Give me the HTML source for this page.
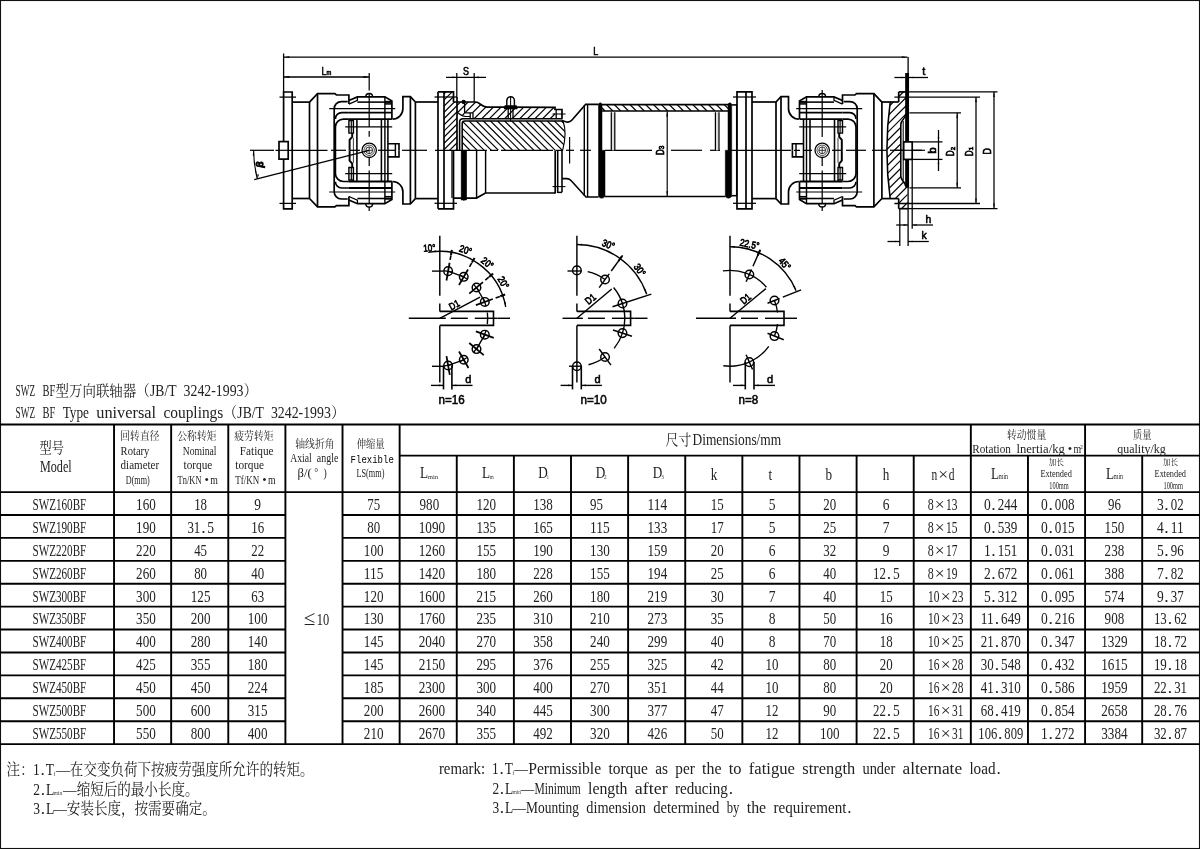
<!DOCTYPE html>
<html lang="zh"><head><meta charset="utf-8"><title>SWZ BF型万向联轴器</title>
<style>html,body{margin:0;padding:0;background:#fff}body{width:1200px;height:849px;overflow:hidden}svg{display:block;will-change:transform}text{white-space:pre}</style>
</head><body>
<svg width="1200" height="849" viewBox="0 0 1200 849">
<rect x="0.5" y="0.5" width="1199" height="848" fill="none" stroke="#111" stroke-width="1.1"/>
<line x1="0" y1="424.5" x2="1200" y2="424.5" stroke="#000" stroke-width="1.9"/>
<line x1="0" y1="492.1" x2="1200" y2="492.1" stroke="#000" stroke-width="1.9"/>
<line x1="0" y1="515.01" x2="285.4" y2="515.01" stroke="#000" stroke-width="1.9"/>
<line x1="342.52" y1="515.01" x2="1200" y2="515.01" stroke="#000" stroke-width="1.9"/>
<line x1="0" y1="537.92" x2="285.4" y2="537.92" stroke="#000" stroke-width="1.9"/>
<line x1="342.52" y1="537.92" x2="1200" y2="537.92" stroke="#000" stroke-width="1.9"/>
<line x1="0" y1="560.83" x2="285.4" y2="560.83" stroke="#000" stroke-width="1.9"/>
<line x1="342.52" y1="560.83" x2="1200" y2="560.83" stroke="#000" stroke-width="1.9"/>
<line x1="0" y1="583.74" x2="285.4" y2="583.74" stroke="#000" stroke-width="1.9"/>
<line x1="342.52" y1="583.74" x2="1200" y2="583.74" stroke="#000" stroke-width="1.9"/>
<line x1="0" y1="606.65" x2="285.4" y2="606.65" stroke="#000" stroke-width="1.9"/>
<line x1="342.52" y1="606.65" x2="1200" y2="606.65" stroke="#000" stroke-width="1.9"/>
<line x1="0" y1="629.56" x2="285.4" y2="629.56" stroke="#000" stroke-width="1.9"/>
<line x1="342.52" y1="629.56" x2="1200" y2="629.56" stroke="#000" stroke-width="1.9"/>
<line x1="0" y1="652.47" x2="285.4" y2="652.47" stroke="#000" stroke-width="1.9"/>
<line x1="342.52" y1="652.47" x2="1200" y2="652.47" stroke="#000" stroke-width="1.9"/>
<line x1="0" y1="675.38" x2="285.4" y2="675.38" stroke="#000" stroke-width="1.9"/>
<line x1="342.52" y1="675.38" x2="1200" y2="675.38" stroke="#000" stroke-width="1.9"/>
<line x1="0" y1="698.29" x2="285.4" y2="698.29" stroke="#000" stroke-width="1.9"/>
<line x1="342.52" y1="698.29" x2="1200" y2="698.29" stroke="#000" stroke-width="1.9"/>
<line x1="0" y1="721.2" x2="285.4" y2="721.2" stroke="#000" stroke-width="1.9"/>
<line x1="342.52" y1="721.2" x2="1200" y2="721.2" stroke="#000" stroke-width="1.9"/>
<line x1="0" y1="744.11" x2="1200" y2="744.11" stroke="#000" stroke-width="1.9"/>
<line x1="399.64" y1="455.6" x2="1200" y2="455.6" stroke="#000" stroke-width="1.9"/>
<line x1="114.04" y1="424.5" x2="114.04" y2="744.11" stroke="#000" stroke-width="1.9"/>
<line x1="171.16" y1="424.5" x2="171.16" y2="744.11" stroke="#000" stroke-width="1.9"/>
<line x1="228.28" y1="424.5" x2="228.28" y2="744.11" stroke="#000" stroke-width="1.9"/>
<line x1="285.4" y1="424.5" x2="285.4" y2="744.11" stroke="#000" stroke-width="1.9"/>
<line x1="342.52" y1="424.5" x2="342.52" y2="744.11" stroke="#000" stroke-width="1.9"/>
<line x1="399.64" y1="424.5" x2="399.64" y2="744.11" stroke="#000" stroke-width="1.9"/>
<line x1="456.76" y1="455.6" x2="456.76" y2="744.11" stroke="#000" stroke-width="1.9"/>
<line x1="513.88" y1="455.6" x2="513.88" y2="744.11" stroke="#000" stroke-width="1.9"/>
<line x1="571" y1="455.6" x2="571" y2="744.11" stroke="#000" stroke-width="1.9"/>
<line x1="628.12" y1="455.6" x2="628.12" y2="744.11" stroke="#000" stroke-width="1.9"/>
<line x1="685.24" y1="455.6" x2="685.24" y2="744.11" stroke="#000" stroke-width="1.9"/>
<line x1="742.36" y1="455.6" x2="742.36" y2="744.11" stroke="#000" stroke-width="1.9"/>
<line x1="799.48" y1="455.6" x2="799.48" y2="744.11" stroke="#000" stroke-width="1.9"/>
<line x1="856.6" y1="455.6" x2="856.6" y2="744.11" stroke="#000" stroke-width="1.9"/>
<line x1="913.72" y1="455.6" x2="913.72" y2="744.11" stroke="#000" stroke-width="1.9"/>
<line x1="970.84" y1="424.5" x2="970.84" y2="744.11" stroke="#000" stroke-width="1.9"/>
<line x1="1027.96" y1="455.6" x2="1027.96" y2="744.11" stroke="#000" stroke-width="1.9"/>
<line x1="1085.08" y1="424.5" x2="1085.08" y2="744.11" stroke="#000" stroke-width="1.9"/>
<line x1="1142.2" y1="455.6" x2="1142.2" y2="744.11" stroke="#000" stroke-width="1.9"/>
<text font-size="16.6" font-family='"Liberation Serif","Noto Serif CJK SC",serif' fill="#222"><tspan x="15.6" y="396.4" textLength="19.56" lengthAdjust="spacingAndGlyphs">SWZ</tspan> <tspan x="42.48" y="396.4" textLength="12.84" lengthAdjust="spacingAndGlyphs">BF</tspan><tspan x="55.62" y="396.4" font-size="15.2" textLength="94.08" lengthAdjust="spacingAndGlyphs">型万向联轴器（</tspan><tspan x="150" y="396.4" textLength="26.28" lengthAdjust="spacingAndGlyphs">JB/T</tspan> <tspan x="183.6" y="396.4" textLength="59.88" lengthAdjust="spacingAndGlyphs">3242-1993</tspan><tspan x="243.78" y="396.4" font-size="15.2" textLength="13.44" lengthAdjust="spacingAndGlyphs">）</tspan></text>
<text font-size="16.6" font-family='"Liberation Serif","Noto Serif CJK SC",serif' fill="#222"><tspan x="15.6" y="417.7" textLength="19.56" lengthAdjust="spacingAndGlyphs">SWZ</tspan> <tspan x="42.48" y="417.7" textLength="12.84" lengthAdjust="spacingAndGlyphs">BF</tspan> <tspan x="62.64" y="417.7" textLength="26.28" lengthAdjust="spacingAndGlyphs">Type</tspan> <tspan x="96.24" y="417.7" textLength="59.88" lengthAdjust="spacingAndGlyphs">universal</tspan> <tspan x="163.44" y="417.7" textLength="59.88" lengthAdjust="spacingAndGlyphs">couplings</tspan><tspan x="223.62" y="417.7" font-size="15.2" textLength="13.44" lengthAdjust="spacingAndGlyphs">（</tspan><tspan x="237.36" y="417.7" textLength="26.28" lengthAdjust="spacingAndGlyphs">JB/T</tspan> <tspan x="270.96" y="417.7" textLength="59.88" lengthAdjust="spacingAndGlyphs">3242-1993</tspan><tspan x="331.14" y="417.7" font-size="15.2" textLength="13.44" lengthAdjust="spacingAndGlyphs">）</tspan></text>
<text font-size="17.6" font-family='"Liberation Serif","Noto Serif CJK SC",serif' fill="#222"><tspan x="39.5" y="452.6" font-size="15.31" textLength="24.4" lengthAdjust="spacingAndGlyphs">型号</tspan></text>
<text font-size="17.6" font-family='"Liberation Serif","Noto Serif CJK SC",serif' fill="#222"><tspan x="40" y="472" textLength="31.65" lengthAdjust="spacingAndGlyphs">Model</tspan></text>
<text font-size="12.6" font-family='"Liberation Serif","Noto Serif CJK SC",serif' fill="#222"><tspan x="120.3" y="440" font-size="11.3" textLength="39.2" lengthAdjust="spacingAndGlyphs">回转直径</tspan></text>
<text font-size="12.6" font-family='"Liberation Serif","Noto Serif CJK SC",serif' fill="#222"><tspan x="120.6" y="454.6" textLength="28.8" lengthAdjust="spacingAndGlyphs">Rotary</tspan></text>
<text font-size="12.6" font-family='"Liberation Serif","Noto Serif CJK SC",serif' fill="#222"><tspan x="120.6" y="469.4" textLength="38.6" lengthAdjust="spacingAndGlyphs">diameter</tspan></text>
<text font-size="12.6" font-family='"Liberation Serif","Noto Serif CJK SC",serif' fill="#222"><tspan x="125.8" y="483.6" textLength="23.9" lengthAdjust="spacingAndGlyphs">D(mm)</tspan></text>
<text font-size="12.6" font-family='"Liberation Serif","Noto Serif CJK SC",serif' fill="#222"><tspan x="177.3" y="440" font-size="11.3" textLength="39.2" lengthAdjust="spacingAndGlyphs">公称转矩</tspan></text>
<text font-size="12.6" font-family='"Liberation Serif","Noto Serif CJK SC",serif' fill="#222"><tspan x="182.8" y="454.6" textLength="33.7" lengthAdjust="spacingAndGlyphs">Nominal</tspan></text>
<text font-size="12.6" font-family='"Liberation Serif","Noto Serif CJK SC",serif' fill="#222"><tspan x="183.5" y="469.4" textLength="28.8" lengthAdjust="spacingAndGlyphs">torque</tspan></text>
<text font-size="12.6" font-family='"Liberation Serif","Noto Serif CJK SC",serif' fill="#222"><tspan x="177.6" y="483.6" textLength="23.9" lengthAdjust="spacingAndGlyphs">Tn/KN</tspan><tspan x="206.7" y="483.6" text-anchor="middle">•</tspan><tspan x="210.24" y="483.6" textLength="7.62" lengthAdjust="spacingAndGlyphs">m</tspan></text>
<text font-size="12.6" font-family='"Liberation Serif","Noto Serif CJK SC",serif' fill="#222"><tspan x="234.3" y="440" font-size="11.3" textLength="39.2" lengthAdjust="spacingAndGlyphs">疲劳转矩</tspan></text>
<text font-size="12.6" font-family='"Liberation Serif","Noto Serif CJK SC",serif' fill="#222"><tspan x="239.8" y="454.6" textLength="33.7" lengthAdjust="spacingAndGlyphs">Fatique</tspan></text>
<text font-size="12.6" font-family='"Liberation Serif","Noto Serif CJK SC",serif' fill="#222"><tspan x="235.3" y="469.4" textLength="28.8" lengthAdjust="spacingAndGlyphs">torque</tspan></text>
<text font-size="12.6" font-family='"Liberation Serif","Noto Serif CJK SC",serif' fill="#222"><tspan x="235.3" y="483.6" textLength="23.9" lengthAdjust="spacingAndGlyphs">Tf/KN</tspan><tspan x="264.4" y="483.6" text-anchor="middle">•</tspan><tspan x="267.94" y="483.6" textLength="7.62" lengthAdjust="spacingAndGlyphs">m</tspan></text>
<text font-size="12.6" font-family='"Liberation Serif","Noto Serif CJK SC",serif' fill="#222"><tspan x="295.3" y="447.6" font-size="11.3" textLength="39.2" lengthAdjust="spacingAndGlyphs">轴线折角</tspan></text>
<text font-size="12.6" font-family='"Liberation Serif","Noto Serif CJK SC",serif' fill="#222"><tspan x="290.3" y="462.3" textLength="21.5" lengthAdjust="spacingAndGlyphs">Axial</tspan> <tspan x="316.82" y="462.3" textLength="21.5" lengthAdjust="spacingAndGlyphs">angle</tspan></text>
<text font-size="12.6" font-family='"Liberation Serif","Noto Serif CJK SC",serif' fill="#222"><tspan x="297.6" y="477" textLength="14.1" lengthAdjust="spacingAndGlyphs">β/(</tspan><tspan x="314.2" y="475.6" font-size="10">°</tspan> <tspan x="323.42" y="477" textLength="3.26" lengthAdjust="spacingAndGlyphs">)</tspan></text>
<text font-size="12.6" font-family='"Liberation Serif","Noto Serif CJK SC",serif' fill="#222"><tspan x="356.7" y="447.6" font-size="11.3" textLength="27.9" lengthAdjust="spacingAndGlyphs">伸缩量</tspan></text>
<text x="350.6" y="462.5" font-size="11.2" font-family='"Liberation Mono","Noto Sans CJK SC",monospace' fill="#000" textLength="43.2" lengthAdjust="spacingAndGlyphs">Flexible</text>
<text font-size="12.6" font-family='"Liberation Serif","Noto Serif CJK SC",serif' fill="#222"><tspan x="356.5" y="477" textLength="27.9" lengthAdjust="spacingAndGlyphs">LS(mm)</tspan></text>
<text font-size="17.6" font-family='"Liberation Serif","Noto Serif CJK SC",serif' fill="#222"><tspan x="665.5" y="444.9" font-size="15" textLength="25.8" lengthAdjust="spacingAndGlyphs">尺寸</tspan></text>
<text font-size="17.6" font-family='"Liberation Serif","Noto Serif CJK SC",serif' fill="#222"><tspan x="692.5" y="444.9" textLength="88.71" lengthAdjust="spacingAndGlyphs">Dimensions/mm</tspan></text>
<text font-size="17" font-family='"Liberation Serif","Noto Serif CJK SC",serif' fill="#222"><tspan x="420.07" y="478.2" textLength="8.07" lengthAdjust="spacingAndGlyphs">L</tspan><tspan x="427.7" y="478.6" font-size="6.2" textLength="10.5" lengthAdjust="spacingAndGlyphs" fill="#333">min</tspan></text>
<text font-size="17" font-family='"Liberation Serif","Noto Serif CJK SC",serif' fill="#222"><tspan x="482.07" y="478.2" textLength="8.07" lengthAdjust="spacingAndGlyphs">L</tspan><tspan x="489.7" y="478.6" font-size="6.2" textLength="4" lengthAdjust="spacingAndGlyphs" fill="#333">m</tspan></text>
<text font-size="17" font-family='"Liberation Serif","Noto Serif CJK SC",serif' fill="#222"><tspan x="538.33" y="478.2" textLength="9.53" lengthAdjust="spacingAndGlyphs">D</tspan><tspan x="546.7" y="478.6" font-size="6.2" textLength="2.2" lengthAdjust="spacingAndGlyphs" fill="#333">1</tspan></text>
<text font-size="17" font-family='"Liberation Serif","Noto Serif CJK SC",serif' fill="#222"><tspan x="595.73" y="478.2" textLength="9.53" lengthAdjust="spacingAndGlyphs">D</tspan><tspan x="604.1" y="478.6" font-size="6.2" textLength="2.6" lengthAdjust="spacingAndGlyphs" fill="#333">2</tspan></text>
<text font-size="17" font-family='"Liberation Serif","Noto Serif CJK SC",serif' fill="#222"><tspan x="652.83" y="478.2" textLength="9.53" lengthAdjust="spacingAndGlyphs">D</tspan><tspan x="661.2" y="478.6" font-size="6.2" textLength="2.6" lengthAdjust="spacingAndGlyphs" fill="#333">3</tspan></text>
<text font-size="17.6" font-family='"Liberation Serif","Noto Serif CJK SC",serif' fill="#222"><tspan x="710.8" y="479.8" textLength="6.6" lengthAdjust="spacingAndGlyphs">k</tspan></text>
<text font-size="17.6" font-family='"Liberation Serif","Noto Serif CJK SC",serif' fill="#222"><tspan x="768.47" y="479.8" textLength="3.67" lengthAdjust="spacingAndGlyphs">t</tspan></text>
<text font-size="17.6" font-family='"Liberation Serif","Noto Serif CJK SC",serif' fill="#222"><tspan x="825.5" y="479.8" textLength="6.6" lengthAdjust="spacingAndGlyphs">b</tspan></text>
<text font-size="17.6" font-family='"Liberation Serif","Noto Serif CJK SC",serif' fill="#222"><tspan x="882.8" y="479.8" textLength="6.6" lengthAdjust="spacingAndGlyphs">h</tspan></text>
<text font-size="17.6" font-family='"Liberation Serif","Noto Serif CJK SC",serif' fill="#222"><tspan x="931.6" y="479.8" textLength="5.75" lengthAdjust="spacingAndGlyphs">n</tspan><tspan x="943.1" y="479.8" text-anchor="middle">×</tspan><tspan x="948.85" y="479.8" textLength="5.75" lengthAdjust="spacingAndGlyphs">d</tspan></text>
<text font-size="12.6" font-family='"Liberation Serif","Noto Serif CJK SC",serif' fill="#222"><tspan x="1007" y="438.6" font-size="11.3" textLength="39.2" lengthAdjust="spacingAndGlyphs">转动惯量</tspan></text>
<text font-size="12.6" font-family='"Liberation Serif","Noto Serif CJK SC",serif' fill="#222"><tspan x="972.3" y="452.8" textLength="38.6" lengthAdjust="spacingAndGlyphs">Rotation</tspan> <tspan x="1016.4" y="452.8" textLength="48.4" lengthAdjust="spacingAndGlyphs">lnertia/kg</tspan><tspan x="1070" y="452.8" text-anchor="middle">•</tspan><tspan x="1073.54" y="452.8" textLength="7.62" lengthAdjust="spacingAndGlyphs">m</tspan><tspan x="1080" y="448.6" font-size="7" textLength="2.8" lengthAdjust="spacingAndGlyphs">2</tspan></text>
<text font-size="12.6" font-family='"Liberation Serif","Noto Serif CJK SC",serif' fill="#222"><tspan x="1133" y="438.6" font-size="11.3" textLength="18.4" lengthAdjust="spacingAndGlyphs">质量</tspan></text>
<text font-size="12.6" font-family='"Liberation Serif","Noto Serif CJK SC",serif' fill="#222"><tspan x="1117.3" y="452.8" textLength="48.4" lengthAdjust="spacingAndGlyphs">quality/kg</tspan></text>
<text font-size="17" font-family='"Liberation Serif","Noto Serif CJK SC",serif' fill="#222"><tspan x="991.07" y="478.8" textLength="8.07" lengthAdjust="spacingAndGlyphs">L</tspan><tspan x="998.8" y="479.2" font-size="7.5" textLength="9.2" lengthAdjust="spacingAndGlyphs">min</tspan></text>
<text font-size="17" font-family='"Liberation Serif","Noto Serif CJK SC",serif' fill="#222"><tspan x="1106.07" y="478.8" textLength="8.07" lengthAdjust="spacingAndGlyphs">L</tspan><tspan x="1113.8" y="479.2" font-size="7.5" textLength="9.2" lengthAdjust="spacingAndGlyphs">min</tspan></text>
<text font-size="10.4" font-family='"Liberation Serif","Noto Serif CJK SC",serif' fill="#222"><tspan x="1048.7" y="465" font-size="8.2" textLength="15.2" lengthAdjust="spacingAndGlyphs">加长</tspan></text>
<text font-size="10.4" font-family='"Liberation Serif","Noto Serif CJK SC",serif' fill="#222"><tspan x="1040.4" y="477.2" textLength="31.4" lengthAdjust="spacingAndGlyphs">Extended</tspan></text>
<text font-size="10.4" font-family='"Liberation Serif","Noto Serif CJK SC",serif' fill="#222"><tspan x="1049.3" y="489.3" textLength="19.4" lengthAdjust="spacingAndGlyphs">100mm</tspan></text>
<text font-size="10.4" font-family='"Liberation Serif","Noto Serif CJK SC",serif' fill="#222"><tspan x="1162.9" y="465" font-size="8.2" textLength="15.2" lengthAdjust="spacingAndGlyphs">加长</tspan></text>
<text font-size="10.4" font-family='"Liberation Serif","Noto Serif CJK SC",serif' fill="#222"><tspan x="1154.6" y="477.2" textLength="31.4" lengthAdjust="spacingAndGlyphs">Extended</tspan></text>
<text font-size="10.4" font-family='"Liberation Serif","Noto Serif CJK SC",serif' fill="#222"><tspan x="1163.5" y="489.3" textLength="19.4" lengthAdjust="spacingAndGlyphs">100mm</tspan></text>
<text font-size="17.6" font-family='"Liberation Serif","Noto Serif CJK SC",serif' fill="#222"><tspan x="32.5" y="509.9" textLength="53.8" lengthAdjust="spacingAndGlyphs">SWZ160BF</tspan></text>
<text font-size="17.6" font-family='"Liberation Serif","Noto Serif CJK SC",serif' fill="#222"><tspan x="136.08" y="509.9" textLength="19.65" lengthAdjust="spacingAndGlyphs">160</tspan></text>
<text font-size="17.6" font-family='"Liberation Serif","Noto Serif CJK SC",serif' fill="#222"><tspan x="194.17" y="509.9" textLength="12.9" lengthAdjust="spacingAndGlyphs">18</tspan></text>
<text font-size="17.6" font-family='"Liberation Serif","Noto Serif CJK SC",serif' fill="#222"><tspan x="254.26" y="509.9" textLength="6.75" lengthAdjust="spacingAndGlyphs">9</tspan></text>
<text font-size="17.6" font-family='"Liberation Serif","Noto Serif CJK SC",serif' fill="#222"><tspan x="367.23" y="509.9" textLength="12.9" lengthAdjust="spacingAndGlyphs">75</tspan></text>
<text font-size="17.6" font-family='"Liberation Serif","Noto Serif CJK SC",serif' fill="#222"><tspan x="419.57" y="509.9" textLength="19.65" lengthAdjust="spacingAndGlyphs">980</tspan></text>
<text font-size="17.6" font-family='"Liberation Serif","Noto Serif CJK SC",serif' fill="#222"><tspan x="476.39" y="509.9" textLength="19.65" lengthAdjust="spacingAndGlyphs">120</tspan></text>
<text font-size="17.6" font-family='"Liberation Serif","Noto Serif CJK SC",serif' fill="#222"><tspan x="533.21" y="509.9" textLength="19.65" lengthAdjust="spacingAndGlyphs">138</tspan></text>
<text font-size="17.6" font-family='"Liberation Serif","Noto Serif CJK SC",serif' fill="#222"><tspan x="590.1" y="509.9" textLength="12.9" lengthAdjust="spacingAndGlyphs">95</tspan></text>
<text font-size="17.6" font-family='"Liberation Serif","Noto Serif CJK SC",serif' fill="#222"><tspan x="647.55" y="509.9" textLength="19.65" lengthAdjust="spacingAndGlyphs">114</tspan></text>
<text font-size="17.6" font-family='"Liberation Serif","Noto Serif CJK SC",serif' fill="#222"><tspan x="710.85" y="509.9" textLength="12.9" lengthAdjust="spacingAndGlyphs">15</tspan></text>
<text font-size="17.6" font-family='"Liberation Serif","Noto Serif CJK SC",serif' fill="#222"><tspan x="768.64" y="509.9" textLength="6.75" lengthAdjust="spacingAndGlyphs">5</tspan></text>
<text font-size="17.6" font-family='"Liberation Serif","Noto Serif CJK SC",serif' fill="#222"><tspan x="823.29" y="509.9" textLength="12.9" lengthAdjust="spacingAndGlyphs">20</tspan></text>
<text font-size="17.6" font-family='"Liberation Serif","Noto Serif CJK SC",serif' fill="#222"><tspan x="882.78" y="509.9" textLength="6.75" lengthAdjust="spacingAndGlyphs">6</tspan></text>
<text font-size="17.6" font-family='"Liberation Serif","Noto Serif CJK SC",serif' fill="#222"><tspan x="927.8" y="509.9" textLength="6" lengthAdjust="spacingAndGlyphs">8</tspan><tspan x="939.8" y="509.9" text-anchor="middle">×</tspan><tspan x="946.1" y="509.9" textLength="11.4" lengthAdjust="spacingAndGlyphs">13</tspan></text>
<text font-size="17.6" font-family='"Liberation Serif","Noto Serif CJK SC",serif' fill="#222"><tspan x="983.92" y="509.9" textLength="6.75" lengthAdjust="spacingAndGlyphs">0</tspan><tspan x="993.51" y="509.9" text-anchor="middle">.</tspan><tspan x="997.72" y="509.9" textLength="19.65" lengthAdjust="spacingAndGlyphs">244</tspan></text>
<text font-size="17.6" font-family='"Liberation Serif","Noto Serif CJK SC",serif' fill="#222"><tspan x="1041.05" y="509.9" textLength="6.75" lengthAdjust="spacingAndGlyphs">0</tspan><tspan x="1050.63" y="509.9" text-anchor="middle">.</tspan><tspan x="1054.85" y="509.9" textLength="19.65" lengthAdjust="spacingAndGlyphs">008</tspan></text>
<text font-size="17.6" font-family='"Liberation Serif","Noto Serif CJK SC",serif' fill="#222"><tspan x="1107.99" y="509.9" textLength="12.9" lengthAdjust="spacingAndGlyphs">96</tspan></text>
<text font-size="17.6" font-family='"Liberation Serif","Noto Serif CJK SC",serif' fill="#222"><tspan x="1156.96" y="509.9" textLength="6.75" lengthAdjust="spacingAndGlyphs">3</tspan><tspan x="1166.54" y="509.9" text-anchor="middle">.</tspan><tspan x="1170.76" y="509.9" textLength="12.9" lengthAdjust="spacingAndGlyphs">02</tspan></text>
<text font-size="17.6" font-family='"Liberation Serif","Noto Serif CJK SC",serif' fill="#222"><tspan x="32.5" y="532.81" textLength="53.8" lengthAdjust="spacingAndGlyphs">SWZ190BF</tspan></text>
<text font-size="17.6" font-family='"Liberation Serif","Noto Serif CJK SC",serif' fill="#222"><tspan x="136.08" y="532.81" textLength="19.65" lengthAdjust="spacingAndGlyphs">190</tspan></text>
<text font-size="17.6" font-family='"Liberation Serif","Noto Serif CJK SC",serif' fill="#222"><tspan x="187.42" y="532.81" textLength="12.9" lengthAdjust="spacingAndGlyphs">31</tspan><tspan x="203.46" y="532.81" text-anchor="middle">.</tspan><tspan x="207.37" y="532.81" textLength="6.75" lengthAdjust="spacingAndGlyphs">5</tspan></text>
<text font-size="17.6" font-family='"Liberation Serif","Noto Serif CJK SC",serif' fill="#222"><tspan x="251.19" y="532.81" textLength="12.9" lengthAdjust="spacingAndGlyphs">16</tspan></text>
<text font-size="17.6" font-family='"Liberation Serif","Noto Serif CJK SC",serif' fill="#222"><tspan x="367.23" y="532.81" textLength="12.9" lengthAdjust="spacingAndGlyphs">80</tspan></text>
<text font-size="17.6" font-family='"Liberation Serif","Noto Serif CJK SC",serif' fill="#222"><tspan x="418.7" y="532.81" textLength="26.4" lengthAdjust="spacingAndGlyphs">1090</tspan></text>
<text font-size="17.6" font-family='"Liberation Serif","Noto Serif CJK SC",serif' fill="#222"><tspan x="476.39" y="532.81" textLength="19.65" lengthAdjust="spacingAndGlyphs">135</tspan></text>
<text font-size="17.6" font-family='"Liberation Serif","Noto Serif CJK SC",serif' fill="#222"><tspan x="533.21" y="532.81" textLength="19.65" lengthAdjust="spacingAndGlyphs">165</tspan></text>
<text font-size="17.6" font-family='"Liberation Serif","Noto Serif CJK SC",serif' fill="#222"><tspan x="590.1" y="532.81" textLength="19.65" lengthAdjust="spacingAndGlyphs">115</tspan></text>
<text font-size="17.6" font-family='"Liberation Serif","Noto Serif CJK SC",serif' fill="#222"><tspan x="647.55" y="532.81" textLength="19.65" lengthAdjust="spacingAndGlyphs">133</tspan></text>
<text font-size="17.6" font-family='"Liberation Serif","Noto Serif CJK SC",serif' fill="#222"><tspan x="710.85" y="532.81" textLength="12.9" lengthAdjust="spacingAndGlyphs">17</tspan></text>
<text font-size="17.6" font-family='"Liberation Serif","Noto Serif CJK SC",serif' fill="#222"><tspan x="768.64" y="532.81" textLength="6.75" lengthAdjust="spacingAndGlyphs">5</tspan></text>
<text font-size="17.6" font-family='"Liberation Serif","Noto Serif CJK SC",serif' fill="#222"><tspan x="823.29" y="532.81" textLength="12.9" lengthAdjust="spacingAndGlyphs">25</tspan></text>
<text font-size="17.6" font-family='"Liberation Serif","Noto Serif CJK SC",serif' fill="#222"><tspan x="882.78" y="532.81" textLength="6.75" lengthAdjust="spacingAndGlyphs">7</tspan></text>
<text font-size="17.6" font-family='"Liberation Serif","Noto Serif CJK SC",serif' fill="#222"><tspan x="927.8" y="532.81" textLength="6" lengthAdjust="spacingAndGlyphs">8</tspan><tspan x="939.8" y="532.81" text-anchor="middle">×</tspan><tspan x="946.1" y="532.81" textLength="11.4" lengthAdjust="spacingAndGlyphs">15</tspan></text>
<text font-size="17.6" font-family='"Liberation Serif","Noto Serif CJK SC",serif' fill="#222"><tspan x="983.92" y="532.81" textLength="6.75" lengthAdjust="spacingAndGlyphs">0</tspan><tspan x="993.51" y="532.81" text-anchor="middle">.</tspan><tspan x="997.72" y="532.81" textLength="19.65" lengthAdjust="spacingAndGlyphs">539</tspan></text>
<text font-size="17.6" font-family='"Liberation Serif","Noto Serif CJK SC",serif' fill="#222"><tspan x="1041.05" y="532.81" textLength="6.75" lengthAdjust="spacingAndGlyphs">0</tspan><tspan x="1050.63" y="532.81" text-anchor="middle">.</tspan><tspan x="1054.85" y="532.81" textLength="19.65" lengthAdjust="spacingAndGlyphs">015</tspan></text>
<text font-size="17.6" font-family='"Liberation Serif","Noto Serif CJK SC",serif' fill="#222"><tspan x="1104.61" y="532.81" textLength="19.65" lengthAdjust="spacingAndGlyphs">150</tspan></text>
<text font-size="17.6" font-family='"Liberation Serif","Noto Serif CJK SC",serif' fill="#222"><tspan x="1156.96" y="532.81" textLength="6.75" lengthAdjust="spacingAndGlyphs">4</tspan><tspan x="1166.54" y="532.81" text-anchor="middle">.</tspan><tspan x="1170.76" y="532.81" textLength="12.9" lengthAdjust="spacingAndGlyphs">11</tspan></text>
<text font-size="17.6" font-family='"Liberation Serif","Noto Serif CJK SC",serif' fill="#222"><tspan x="32.5" y="555.72" textLength="53.8" lengthAdjust="spacingAndGlyphs">SWZ220BF</tspan></text>
<text font-size="17.6" font-family='"Liberation Serif","Noto Serif CJK SC",serif' fill="#222"><tspan x="136.08" y="555.72" textLength="19.65" lengthAdjust="spacingAndGlyphs">220</tspan></text>
<text font-size="17.6" font-family='"Liberation Serif","Noto Serif CJK SC",serif' fill="#222"><tspan x="194.17" y="555.72" textLength="12.9" lengthAdjust="spacingAndGlyphs">45</tspan></text>
<text font-size="17.6" font-family='"Liberation Serif","Noto Serif CJK SC",serif' fill="#222"><tspan x="251.19" y="555.72" textLength="12.9" lengthAdjust="spacingAndGlyphs">22</tspan></text>
<text font-size="17.6" font-family='"Liberation Serif","Noto Serif CJK SC",serif' fill="#222"><tspan x="363.86" y="555.72" textLength="19.65" lengthAdjust="spacingAndGlyphs">100</tspan></text>
<text font-size="17.6" font-family='"Liberation Serif","Noto Serif CJK SC",serif' fill="#222"><tspan x="418.7" y="555.72" textLength="26.4" lengthAdjust="spacingAndGlyphs">1260</tspan></text>
<text font-size="17.6" font-family='"Liberation Serif","Noto Serif CJK SC",serif' fill="#222"><tspan x="476.39" y="555.72" textLength="19.65" lengthAdjust="spacingAndGlyphs">155</tspan></text>
<text font-size="17.6" font-family='"Liberation Serif","Noto Serif CJK SC",serif' fill="#222"><tspan x="533.21" y="555.72" textLength="19.65" lengthAdjust="spacingAndGlyphs">190</tspan></text>
<text font-size="17.6" font-family='"Liberation Serif","Noto Serif CJK SC",serif' fill="#222"><tspan x="590.1" y="555.72" textLength="19.65" lengthAdjust="spacingAndGlyphs">130</tspan></text>
<text font-size="17.6" font-family='"Liberation Serif","Noto Serif CJK SC",serif' fill="#222"><tspan x="647.55" y="555.72" textLength="19.65" lengthAdjust="spacingAndGlyphs">159</tspan></text>
<text font-size="17.6" font-family='"Liberation Serif","Noto Serif CJK SC",serif' fill="#222"><tspan x="710.85" y="555.72" textLength="12.9" lengthAdjust="spacingAndGlyphs">20</tspan></text>
<text font-size="17.6" font-family='"Liberation Serif","Noto Serif CJK SC",serif' fill="#222"><tspan x="768.64" y="555.72" textLength="6.75" lengthAdjust="spacingAndGlyphs">6</tspan></text>
<text font-size="17.6" font-family='"Liberation Serif","Noto Serif CJK SC",serif' fill="#222"><tspan x="823.29" y="555.72" textLength="12.9" lengthAdjust="spacingAndGlyphs">32</tspan></text>
<text font-size="17.6" font-family='"Liberation Serif","Noto Serif CJK SC",serif' fill="#222"><tspan x="882.78" y="555.72" textLength="6.75" lengthAdjust="spacingAndGlyphs">9</tspan></text>
<text font-size="17.6" font-family='"Liberation Serif","Noto Serif CJK SC",serif' fill="#222"><tspan x="927.8" y="555.72" textLength="6" lengthAdjust="spacingAndGlyphs">8</tspan><tspan x="939.8" y="555.72" text-anchor="middle">×</tspan><tspan x="946.1" y="555.72" textLength="11.4" lengthAdjust="spacingAndGlyphs">17</tspan></text>
<text font-size="17.6" font-family='"Liberation Serif","Noto Serif CJK SC",serif' fill="#222"><tspan x="983.92" y="555.72" textLength="6.75" lengthAdjust="spacingAndGlyphs">1</tspan><tspan x="993.51" y="555.72" text-anchor="middle">.</tspan><tspan x="997.72" y="555.72" textLength="19.65" lengthAdjust="spacingAndGlyphs">151</tspan></text>
<text font-size="17.6" font-family='"Liberation Serif","Noto Serif CJK SC",serif' fill="#222"><tspan x="1041.05" y="555.72" textLength="6.75" lengthAdjust="spacingAndGlyphs">0</tspan><tspan x="1050.63" y="555.72" text-anchor="middle">.</tspan><tspan x="1054.85" y="555.72" textLength="19.65" lengthAdjust="spacingAndGlyphs">031</tspan></text>
<text font-size="17.6" font-family='"Liberation Serif","Noto Serif CJK SC",serif' fill="#222"><tspan x="1104.61" y="555.72" textLength="19.65" lengthAdjust="spacingAndGlyphs">238</tspan></text>
<text font-size="17.6" font-family='"Liberation Serif","Noto Serif CJK SC",serif' fill="#222"><tspan x="1156.96" y="555.72" textLength="6.75" lengthAdjust="spacingAndGlyphs">5</tspan><tspan x="1166.54" y="555.72" text-anchor="middle">.</tspan><tspan x="1170.76" y="555.72" textLength="12.9" lengthAdjust="spacingAndGlyphs">96</tspan></text>
<text font-size="17.6" font-family='"Liberation Serif","Noto Serif CJK SC",serif' fill="#222"><tspan x="32.5" y="578.63" textLength="53.8" lengthAdjust="spacingAndGlyphs">SWZ260BF</tspan></text>
<text font-size="17.6" font-family='"Liberation Serif","Noto Serif CJK SC",serif' fill="#222"><tspan x="136.08" y="578.63" textLength="19.65" lengthAdjust="spacingAndGlyphs">260</tspan></text>
<text font-size="17.6" font-family='"Liberation Serif","Noto Serif CJK SC",serif' fill="#222"><tspan x="194.17" y="578.63" textLength="12.9" lengthAdjust="spacingAndGlyphs">80</tspan></text>
<text font-size="17.6" font-family='"Liberation Serif","Noto Serif CJK SC",serif' fill="#222"><tspan x="251.19" y="578.63" textLength="12.9" lengthAdjust="spacingAndGlyphs">40</tspan></text>
<text font-size="17.6" font-family='"Liberation Serif","Noto Serif CJK SC",serif' fill="#222"><tspan x="363.86" y="578.63" textLength="19.65" lengthAdjust="spacingAndGlyphs">115</tspan></text>
<text font-size="17.6" font-family='"Liberation Serif","Noto Serif CJK SC",serif' fill="#222"><tspan x="418.7" y="578.63" textLength="26.4" lengthAdjust="spacingAndGlyphs">1420</tspan></text>
<text font-size="17.6" font-family='"Liberation Serif","Noto Serif CJK SC",serif' fill="#222"><tspan x="476.39" y="578.63" textLength="19.65" lengthAdjust="spacingAndGlyphs">180</tspan></text>
<text font-size="17.6" font-family='"Liberation Serif","Noto Serif CJK SC",serif' fill="#222"><tspan x="533.21" y="578.63" textLength="19.65" lengthAdjust="spacingAndGlyphs">228</tspan></text>
<text font-size="17.6" font-family='"Liberation Serif","Noto Serif CJK SC",serif' fill="#222"><tspan x="590.1" y="578.63" textLength="19.65" lengthAdjust="spacingAndGlyphs">155</tspan></text>
<text font-size="17.6" font-family='"Liberation Serif","Noto Serif CJK SC",serif' fill="#222"><tspan x="647.55" y="578.63" textLength="19.65" lengthAdjust="spacingAndGlyphs">194</tspan></text>
<text font-size="17.6" font-family='"Liberation Serif","Noto Serif CJK SC",serif' fill="#222"><tspan x="710.85" y="578.63" textLength="12.9" lengthAdjust="spacingAndGlyphs">25</tspan></text>
<text font-size="17.6" font-family='"Liberation Serif","Noto Serif CJK SC",serif' fill="#222"><tspan x="768.64" y="578.63" textLength="6.75" lengthAdjust="spacingAndGlyphs">6</tspan></text>
<text font-size="17.6" font-family='"Liberation Serif","Noto Serif CJK SC",serif' fill="#222"><tspan x="823.29" y="578.63" textLength="12.9" lengthAdjust="spacingAndGlyphs">40</tspan></text>
<text font-size="17.6" font-family='"Liberation Serif","Noto Serif CJK SC",serif' fill="#222"><tspan x="872.96" y="578.63" textLength="12.9" lengthAdjust="spacingAndGlyphs">12</tspan><tspan x="888.99" y="578.63" text-anchor="middle">.</tspan><tspan x="892.91" y="578.63" textLength="6.75" lengthAdjust="spacingAndGlyphs">5</tspan></text>
<text font-size="17.6" font-family='"Liberation Serif","Noto Serif CJK SC",serif' fill="#222"><tspan x="927.8" y="578.63" textLength="6" lengthAdjust="spacingAndGlyphs">8</tspan><tspan x="939.8" y="578.63" text-anchor="middle">×</tspan><tspan x="946.1" y="578.63" textLength="11.4" lengthAdjust="spacingAndGlyphs">19</tspan></text>
<text font-size="17.6" font-family='"Liberation Serif","Noto Serif CJK SC",serif' fill="#222"><tspan x="983.92" y="578.63" textLength="6.75" lengthAdjust="spacingAndGlyphs">2</tspan><tspan x="993.51" y="578.63" text-anchor="middle">.</tspan><tspan x="997.72" y="578.63" textLength="19.65" lengthAdjust="spacingAndGlyphs">672</tspan></text>
<text font-size="17.6" font-family='"Liberation Serif","Noto Serif CJK SC",serif' fill="#222"><tspan x="1041.05" y="578.63" textLength="6.75" lengthAdjust="spacingAndGlyphs">0</tspan><tspan x="1050.63" y="578.63" text-anchor="middle">.</tspan><tspan x="1054.85" y="578.63" textLength="19.65" lengthAdjust="spacingAndGlyphs">061</tspan></text>
<text font-size="17.6" font-family='"Liberation Serif","Noto Serif CJK SC",serif' fill="#222"><tspan x="1104.61" y="578.63" textLength="19.65" lengthAdjust="spacingAndGlyphs">388</tspan></text>
<text font-size="17.6" font-family='"Liberation Serif","Noto Serif CJK SC",serif' fill="#222"><tspan x="1156.96" y="578.63" textLength="6.75" lengthAdjust="spacingAndGlyphs">7</tspan><tspan x="1166.54" y="578.63" text-anchor="middle">.</tspan><tspan x="1170.76" y="578.63" textLength="12.9" lengthAdjust="spacingAndGlyphs">82</tspan></text>
<text font-size="17.6" font-family='"Liberation Serif","Noto Serif CJK SC",serif' fill="#222"><tspan x="32.5" y="601.54" textLength="53.8" lengthAdjust="spacingAndGlyphs">SWZ300BF</tspan></text>
<text font-size="17.6" font-family='"Liberation Serif","Noto Serif CJK SC",serif' fill="#222"><tspan x="136.08" y="601.54" textLength="19.65" lengthAdjust="spacingAndGlyphs">300</tspan></text>
<text font-size="17.6" font-family='"Liberation Serif","Noto Serif CJK SC",serif' fill="#222"><tspan x="190.8" y="601.54" textLength="19.65" lengthAdjust="spacingAndGlyphs">125</tspan></text>
<text font-size="17.6" font-family='"Liberation Serif","Noto Serif CJK SC",serif' fill="#222"><tspan x="251.19" y="601.54" textLength="12.9" lengthAdjust="spacingAndGlyphs">63</tspan></text>
<text font-size="17.6" font-family='"Liberation Serif","Noto Serif CJK SC",serif' fill="#222"><tspan x="363.86" y="601.54" textLength="19.65" lengthAdjust="spacingAndGlyphs">120</tspan></text>
<text font-size="17.6" font-family='"Liberation Serif","Noto Serif CJK SC",serif' fill="#222"><tspan x="418.7" y="601.54" textLength="26.4" lengthAdjust="spacingAndGlyphs">1600</tspan></text>
<text font-size="17.6" font-family='"Liberation Serif","Noto Serif CJK SC",serif' fill="#222"><tspan x="476.39" y="601.54" textLength="19.65" lengthAdjust="spacingAndGlyphs">215</tspan></text>
<text font-size="17.6" font-family='"Liberation Serif","Noto Serif CJK SC",serif' fill="#222"><tspan x="533.21" y="601.54" textLength="19.65" lengthAdjust="spacingAndGlyphs">260</tspan></text>
<text font-size="17.6" font-family='"Liberation Serif","Noto Serif CJK SC",serif' fill="#222"><tspan x="590.1" y="601.54" textLength="19.65" lengthAdjust="spacingAndGlyphs">180</tspan></text>
<text font-size="17.6" font-family='"Liberation Serif","Noto Serif CJK SC",serif' fill="#222"><tspan x="647.55" y="601.54" textLength="19.65" lengthAdjust="spacingAndGlyphs">219</tspan></text>
<text font-size="17.6" font-family='"Liberation Serif","Noto Serif CJK SC",serif' fill="#222"><tspan x="710.85" y="601.54" textLength="12.9" lengthAdjust="spacingAndGlyphs">30</tspan></text>
<text font-size="17.6" font-family='"Liberation Serif","Noto Serif CJK SC",serif' fill="#222"><tspan x="768.64" y="601.54" textLength="6.75" lengthAdjust="spacingAndGlyphs">7</tspan></text>
<text font-size="17.6" font-family='"Liberation Serif","Noto Serif CJK SC",serif' fill="#222"><tspan x="823.29" y="601.54" textLength="12.9" lengthAdjust="spacingAndGlyphs">40</tspan></text>
<text font-size="17.6" font-family='"Liberation Serif","Noto Serif CJK SC",serif' fill="#222"><tspan x="879.71" y="601.54" textLength="12.9" lengthAdjust="spacingAndGlyphs">15</tspan></text>
<text font-size="17.6" font-family='"Liberation Serif","Noto Serif CJK SC",serif' fill="#222"><tspan x="928.1" y="601.54" textLength="11.4" lengthAdjust="spacingAndGlyphs">10</tspan><tspan x="945.8" y="601.54" text-anchor="middle">×</tspan><tspan x="952.1" y="601.54" textLength="11.4" lengthAdjust="spacingAndGlyphs">23</tspan></text>
<text font-size="17.6" font-family='"Liberation Serif","Noto Serif CJK SC",serif' fill="#222"><tspan x="983.92" y="601.54" textLength="6.75" lengthAdjust="spacingAndGlyphs">5</tspan><tspan x="993.51" y="601.54" text-anchor="middle">.</tspan><tspan x="997.72" y="601.54" textLength="19.65" lengthAdjust="spacingAndGlyphs">312</tspan></text>
<text font-size="17.6" font-family='"Liberation Serif","Noto Serif CJK SC",serif' fill="#222"><tspan x="1041.05" y="601.54" textLength="6.75" lengthAdjust="spacingAndGlyphs">0</tspan><tspan x="1050.63" y="601.54" text-anchor="middle">.</tspan><tspan x="1054.85" y="601.54" textLength="19.65" lengthAdjust="spacingAndGlyphs">095</tspan></text>
<text font-size="17.6" font-family='"Liberation Serif","Noto Serif CJK SC",serif' fill="#222"><tspan x="1104.61" y="601.54" textLength="19.65" lengthAdjust="spacingAndGlyphs">574</tspan></text>
<text font-size="17.6" font-family='"Liberation Serif","Noto Serif CJK SC",serif' fill="#222"><tspan x="1156.96" y="601.54" textLength="6.75" lengthAdjust="spacingAndGlyphs">9</tspan><tspan x="1166.54" y="601.54" text-anchor="middle">.</tspan><tspan x="1170.76" y="601.54" textLength="12.9" lengthAdjust="spacingAndGlyphs">37</tspan></text>
<text font-size="17.6" font-family='"Liberation Serif","Noto Serif CJK SC",serif' fill="#222"><tspan x="32.5" y="624.45" textLength="53.8" lengthAdjust="spacingAndGlyphs">SWZ350BF</tspan></text>
<text font-size="17.6" font-family='"Liberation Serif","Noto Serif CJK SC",serif' fill="#222"><tspan x="136.08" y="624.45" textLength="19.65" lengthAdjust="spacingAndGlyphs">350</tspan></text>
<text font-size="17.6" font-family='"Liberation Serif","Noto Serif CJK SC",serif' fill="#222"><tspan x="190.8" y="624.45" textLength="19.65" lengthAdjust="spacingAndGlyphs">200</tspan></text>
<text font-size="17.6" font-family='"Liberation Serif","Noto Serif CJK SC",serif' fill="#222"><tspan x="247.81" y="624.45" textLength="19.65" lengthAdjust="spacingAndGlyphs">100</tspan></text>
<text font-size="17.6" font-family='"Liberation Serif","Noto Serif CJK SC",serif' fill="#222"><tspan x="363.86" y="624.45" textLength="19.65" lengthAdjust="spacingAndGlyphs">130</tspan></text>
<text font-size="17.6" font-family='"Liberation Serif","Noto Serif CJK SC",serif' fill="#222"><tspan x="418.7" y="624.45" textLength="26.4" lengthAdjust="spacingAndGlyphs">1760</tspan></text>
<text font-size="17.6" font-family='"Liberation Serif","Noto Serif CJK SC",serif' fill="#222"><tspan x="476.39" y="624.45" textLength="19.65" lengthAdjust="spacingAndGlyphs">235</tspan></text>
<text font-size="17.6" font-family='"Liberation Serif","Noto Serif CJK SC",serif' fill="#222"><tspan x="533.21" y="624.45" textLength="19.65" lengthAdjust="spacingAndGlyphs">310</tspan></text>
<text font-size="17.6" font-family='"Liberation Serif","Noto Serif CJK SC",serif' fill="#222"><tspan x="590.1" y="624.45" textLength="19.65" lengthAdjust="spacingAndGlyphs">210</tspan></text>
<text font-size="17.6" font-family='"Liberation Serif","Noto Serif CJK SC",serif' fill="#222"><tspan x="647.55" y="624.45" textLength="19.65" lengthAdjust="spacingAndGlyphs">273</tspan></text>
<text font-size="17.6" font-family='"Liberation Serif","Noto Serif CJK SC",serif' fill="#222"><tspan x="710.85" y="624.45" textLength="12.9" lengthAdjust="spacingAndGlyphs">35</tspan></text>
<text font-size="17.6" font-family='"Liberation Serif","Noto Serif CJK SC",serif' fill="#222"><tspan x="768.64" y="624.45" textLength="6.75" lengthAdjust="spacingAndGlyphs">8</tspan></text>
<text font-size="17.6" font-family='"Liberation Serif","Noto Serif CJK SC",serif' fill="#222"><tspan x="823.29" y="624.45" textLength="12.9" lengthAdjust="spacingAndGlyphs">50</tspan></text>
<text font-size="17.6" font-family='"Liberation Serif","Noto Serif CJK SC",serif' fill="#222"><tspan x="879.71" y="624.45" textLength="12.9" lengthAdjust="spacingAndGlyphs">16</tspan></text>
<text font-size="17.6" font-family='"Liberation Serif","Noto Serif CJK SC",serif' fill="#222"><tspan x="928.1" y="624.45" textLength="11.4" lengthAdjust="spacingAndGlyphs">10</tspan><tspan x="945.8" y="624.45" text-anchor="middle">×</tspan><tspan x="952.1" y="624.45" textLength="11.4" lengthAdjust="spacingAndGlyphs">23</tspan></text>
<text font-size="17.6" font-family='"Liberation Serif","Noto Serif CJK SC",serif' fill="#222"><tspan x="980.85" y="624.45" textLength="12.9" lengthAdjust="spacingAndGlyphs">11</tspan><tspan x="996.88" y="624.45" text-anchor="middle">.</tspan><tspan x="1001.1" y="624.45" textLength="19.65" lengthAdjust="spacingAndGlyphs">649</tspan></text>
<text font-size="17.6" font-family='"Liberation Serif","Noto Serif CJK SC",serif' fill="#222"><tspan x="1041.05" y="624.45" textLength="6.75" lengthAdjust="spacingAndGlyphs">0</tspan><tspan x="1050.63" y="624.45" text-anchor="middle">.</tspan><tspan x="1054.85" y="624.45" textLength="19.65" lengthAdjust="spacingAndGlyphs">216</tspan></text>
<text font-size="17.6" font-family='"Liberation Serif","Noto Serif CJK SC",serif' fill="#222"><tspan x="1104.61" y="624.45" textLength="19.65" lengthAdjust="spacingAndGlyphs">908</tspan></text>
<text font-size="17.6" font-family='"Liberation Serif","Noto Serif CJK SC",serif' fill="#222"><tspan x="1153.88" y="624.45" textLength="12.9" lengthAdjust="spacingAndGlyphs">13</tspan><tspan x="1169.92" y="624.45" text-anchor="middle">.</tspan><tspan x="1174.13" y="624.45" textLength="12.9" lengthAdjust="spacingAndGlyphs">62</tspan></text>
<text font-size="17.6" font-family='"Liberation Serif","Noto Serif CJK SC",serif' fill="#222"><tspan x="32.5" y="647.36" textLength="53.8" lengthAdjust="spacingAndGlyphs">SWZ400BF</tspan></text>
<text font-size="17.6" font-family='"Liberation Serif","Noto Serif CJK SC",serif' fill="#222"><tspan x="136.08" y="647.36" textLength="19.65" lengthAdjust="spacingAndGlyphs">400</tspan></text>
<text font-size="17.6" font-family='"Liberation Serif","Noto Serif CJK SC",serif' fill="#222"><tspan x="190.8" y="647.36" textLength="19.65" lengthAdjust="spacingAndGlyphs">280</tspan></text>
<text font-size="17.6" font-family='"Liberation Serif","Noto Serif CJK SC",serif' fill="#222"><tspan x="247.81" y="647.36" textLength="19.65" lengthAdjust="spacingAndGlyphs">140</tspan></text>
<text font-size="17.6" font-family='"Liberation Serif","Noto Serif CJK SC",serif' fill="#222"><tspan x="363.86" y="647.36" textLength="19.65" lengthAdjust="spacingAndGlyphs">145</tspan></text>
<text font-size="17.6" font-family='"Liberation Serif","Noto Serif CJK SC",serif' fill="#222"><tspan x="418.7" y="647.36" textLength="26.4" lengthAdjust="spacingAndGlyphs">2040</tspan></text>
<text font-size="17.6" font-family='"Liberation Serif","Noto Serif CJK SC",serif' fill="#222"><tspan x="476.39" y="647.36" textLength="19.65" lengthAdjust="spacingAndGlyphs">270</tspan></text>
<text font-size="17.6" font-family='"Liberation Serif","Noto Serif CJK SC",serif' fill="#222"><tspan x="533.21" y="647.36" textLength="19.65" lengthAdjust="spacingAndGlyphs">358</tspan></text>
<text font-size="17.6" font-family='"Liberation Serif","Noto Serif CJK SC",serif' fill="#222"><tspan x="590.1" y="647.36" textLength="19.65" lengthAdjust="spacingAndGlyphs">240</tspan></text>
<text font-size="17.6" font-family='"Liberation Serif","Noto Serif CJK SC",serif' fill="#222"><tspan x="647.55" y="647.36" textLength="19.65" lengthAdjust="spacingAndGlyphs">299</tspan></text>
<text font-size="17.6" font-family='"Liberation Serif","Noto Serif CJK SC",serif' fill="#222"><tspan x="710.85" y="647.36" textLength="12.9" lengthAdjust="spacingAndGlyphs">40</tspan></text>
<text font-size="17.6" font-family='"Liberation Serif","Noto Serif CJK SC",serif' fill="#222"><tspan x="768.64" y="647.36" textLength="6.75" lengthAdjust="spacingAndGlyphs">8</tspan></text>
<text font-size="17.6" font-family='"Liberation Serif","Noto Serif CJK SC",serif' fill="#222"><tspan x="823.29" y="647.36" textLength="12.9" lengthAdjust="spacingAndGlyphs">70</tspan></text>
<text font-size="17.6" font-family='"Liberation Serif","Noto Serif CJK SC",serif' fill="#222"><tspan x="879.71" y="647.36" textLength="12.9" lengthAdjust="spacingAndGlyphs">18</tspan></text>
<text font-size="17.6" font-family='"Liberation Serif","Noto Serif CJK SC",serif' fill="#222"><tspan x="928.1" y="647.36" textLength="11.4" lengthAdjust="spacingAndGlyphs">10</tspan><tspan x="945.8" y="647.36" text-anchor="middle">×</tspan><tspan x="952.1" y="647.36" textLength="11.4" lengthAdjust="spacingAndGlyphs">25</tspan></text>
<text font-size="17.6" font-family='"Liberation Serif","Noto Serif CJK SC",serif' fill="#222"><tspan x="980.85" y="647.36" textLength="12.9" lengthAdjust="spacingAndGlyphs">21</tspan><tspan x="996.88" y="647.36" text-anchor="middle">.</tspan><tspan x="1001.1" y="647.36" textLength="19.65" lengthAdjust="spacingAndGlyphs">870</tspan></text>
<text font-size="17.6" font-family='"Liberation Serif","Noto Serif CJK SC",serif' fill="#222"><tspan x="1041.05" y="647.36" textLength="6.75" lengthAdjust="spacingAndGlyphs">0</tspan><tspan x="1050.63" y="647.36" text-anchor="middle">.</tspan><tspan x="1054.85" y="647.36" textLength="19.65" lengthAdjust="spacingAndGlyphs">347</tspan></text>
<text font-size="17.6" font-family='"Liberation Serif","Noto Serif CJK SC",serif' fill="#222"><tspan x="1101.24" y="647.36" textLength="26.4" lengthAdjust="spacingAndGlyphs">1329</tspan></text>
<text font-size="17.6" font-family='"Liberation Serif","Noto Serif CJK SC",serif' fill="#222"><tspan x="1153.88" y="647.36" textLength="12.9" lengthAdjust="spacingAndGlyphs">18</tspan><tspan x="1169.92" y="647.36" text-anchor="middle">.</tspan><tspan x="1174.13" y="647.36" textLength="12.9" lengthAdjust="spacingAndGlyphs">72</tspan></text>
<text font-size="17.6" font-family='"Liberation Serif","Noto Serif CJK SC",serif' fill="#222"><tspan x="32.5" y="670.27" textLength="53.8" lengthAdjust="spacingAndGlyphs">SWZ425BF</tspan></text>
<text font-size="17.6" font-family='"Liberation Serif","Noto Serif CJK SC",serif' fill="#222"><tspan x="136.08" y="670.27" textLength="19.65" lengthAdjust="spacingAndGlyphs">425</tspan></text>
<text font-size="17.6" font-family='"Liberation Serif","Noto Serif CJK SC",serif' fill="#222"><tspan x="190.8" y="670.27" textLength="19.65" lengthAdjust="spacingAndGlyphs">355</tspan></text>
<text font-size="17.6" font-family='"Liberation Serif","Noto Serif CJK SC",serif' fill="#222"><tspan x="247.81" y="670.27" textLength="19.65" lengthAdjust="spacingAndGlyphs">180</tspan></text>
<text font-size="17.6" font-family='"Liberation Serif","Noto Serif CJK SC",serif' fill="#222"><tspan x="363.86" y="670.27" textLength="19.65" lengthAdjust="spacingAndGlyphs">145</tspan></text>
<text font-size="17.6" font-family='"Liberation Serif","Noto Serif CJK SC",serif' fill="#222"><tspan x="418.7" y="670.27" textLength="26.4" lengthAdjust="spacingAndGlyphs">2150</tspan></text>
<text font-size="17.6" font-family='"Liberation Serif","Noto Serif CJK SC",serif' fill="#222"><tspan x="476.39" y="670.27" textLength="19.65" lengthAdjust="spacingAndGlyphs">295</tspan></text>
<text font-size="17.6" font-family='"Liberation Serif","Noto Serif CJK SC",serif' fill="#222"><tspan x="533.21" y="670.27" textLength="19.65" lengthAdjust="spacingAndGlyphs">376</tspan></text>
<text font-size="17.6" font-family='"Liberation Serif","Noto Serif CJK SC",serif' fill="#222"><tspan x="590.1" y="670.27" textLength="19.65" lengthAdjust="spacingAndGlyphs">255</tspan></text>
<text font-size="17.6" font-family='"Liberation Serif","Noto Serif CJK SC",serif' fill="#222"><tspan x="647.55" y="670.27" textLength="19.65" lengthAdjust="spacingAndGlyphs">325</tspan></text>
<text font-size="17.6" font-family='"Liberation Serif","Noto Serif CJK SC",serif' fill="#222"><tspan x="710.85" y="670.27" textLength="12.9" lengthAdjust="spacingAndGlyphs">42</tspan></text>
<text font-size="17.6" font-family='"Liberation Serif","Noto Serif CJK SC",serif' fill="#222"><tspan x="765.57" y="670.27" textLength="12.9" lengthAdjust="spacingAndGlyphs">10</tspan></text>
<text font-size="17.6" font-family='"Liberation Serif","Noto Serif CJK SC",serif' fill="#222"><tspan x="823.29" y="670.27" textLength="12.9" lengthAdjust="spacingAndGlyphs">80</tspan></text>
<text font-size="17.6" font-family='"Liberation Serif","Noto Serif CJK SC",serif' fill="#222"><tspan x="879.71" y="670.27" textLength="12.9" lengthAdjust="spacingAndGlyphs">20</tspan></text>
<text font-size="17.6" font-family='"Liberation Serif","Noto Serif CJK SC",serif' fill="#222"><tspan x="928.1" y="670.27" textLength="11.4" lengthAdjust="spacingAndGlyphs">16</tspan><tspan x="945.8" y="670.27" text-anchor="middle">×</tspan><tspan x="952.1" y="670.27" textLength="11.4" lengthAdjust="spacingAndGlyphs">28</tspan></text>
<text font-size="17.6" font-family='"Liberation Serif","Noto Serif CJK SC",serif' fill="#222"><tspan x="980.85" y="670.27" textLength="12.9" lengthAdjust="spacingAndGlyphs">30</tspan><tspan x="996.88" y="670.27" text-anchor="middle">.</tspan><tspan x="1001.1" y="670.27" textLength="19.65" lengthAdjust="spacingAndGlyphs">548</tspan></text>
<text font-size="17.6" font-family='"Liberation Serif","Noto Serif CJK SC",serif' fill="#222"><tspan x="1041.05" y="670.27" textLength="6.75" lengthAdjust="spacingAndGlyphs">0</tspan><tspan x="1050.63" y="670.27" text-anchor="middle">.</tspan><tspan x="1054.85" y="670.27" textLength="19.65" lengthAdjust="spacingAndGlyphs">432</tspan></text>
<text font-size="17.6" font-family='"Liberation Serif","Noto Serif CJK SC",serif' fill="#222"><tspan x="1101.24" y="670.27" textLength="26.4" lengthAdjust="spacingAndGlyphs">1615</tspan></text>
<text font-size="17.6" font-family='"Liberation Serif","Noto Serif CJK SC",serif' fill="#222"><tspan x="1153.88" y="670.27" textLength="12.9" lengthAdjust="spacingAndGlyphs">19</tspan><tspan x="1169.92" y="670.27" text-anchor="middle">.</tspan><tspan x="1174.13" y="670.27" textLength="12.9" lengthAdjust="spacingAndGlyphs">18</tspan></text>
<text font-size="17.6" font-family='"Liberation Serif","Noto Serif CJK SC",serif' fill="#222"><tspan x="32.5" y="693.18" textLength="53.8" lengthAdjust="spacingAndGlyphs">SWZ450BF</tspan></text>
<text font-size="17.6" font-family='"Liberation Serif","Noto Serif CJK SC",serif' fill="#222"><tspan x="136.08" y="693.18" textLength="19.65" lengthAdjust="spacingAndGlyphs">450</tspan></text>
<text font-size="17.6" font-family='"Liberation Serif","Noto Serif CJK SC",serif' fill="#222"><tspan x="190.8" y="693.18" textLength="19.65" lengthAdjust="spacingAndGlyphs">450</tspan></text>
<text font-size="17.6" font-family='"Liberation Serif","Noto Serif CJK SC",serif' fill="#222"><tspan x="247.81" y="693.18" textLength="19.65" lengthAdjust="spacingAndGlyphs">224</tspan></text>
<text font-size="17.6" font-family='"Liberation Serif","Noto Serif CJK SC",serif' fill="#222"><tspan x="363.86" y="693.18" textLength="19.65" lengthAdjust="spacingAndGlyphs">185</tspan></text>
<text font-size="17.6" font-family='"Liberation Serif","Noto Serif CJK SC",serif' fill="#222"><tspan x="418.7" y="693.18" textLength="26.4" lengthAdjust="spacingAndGlyphs">2300</tspan></text>
<text font-size="17.6" font-family='"Liberation Serif","Noto Serif CJK SC",serif' fill="#222"><tspan x="476.39" y="693.18" textLength="19.65" lengthAdjust="spacingAndGlyphs">300</tspan></text>
<text font-size="17.6" font-family='"Liberation Serif","Noto Serif CJK SC",serif' fill="#222"><tspan x="533.21" y="693.18" textLength="19.65" lengthAdjust="spacingAndGlyphs">400</tspan></text>
<text font-size="17.6" font-family='"Liberation Serif","Noto Serif CJK SC",serif' fill="#222"><tspan x="590.1" y="693.18" textLength="19.65" lengthAdjust="spacingAndGlyphs">270</tspan></text>
<text font-size="17.6" font-family='"Liberation Serif","Noto Serif CJK SC",serif' fill="#222"><tspan x="647.55" y="693.18" textLength="19.65" lengthAdjust="spacingAndGlyphs">351</tspan></text>
<text font-size="17.6" font-family='"Liberation Serif","Noto Serif CJK SC",serif' fill="#222"><tspan x="710.85" y="693.18" textLength="12.9" lengthAdjust="spacingAndGlyphs">44</tspan></text>
<text font-size="17.6" font-family='"Liberation Serif","Noto Serif CJK SC",serif' fill="#222"><tspan x="765.57" y="693.18" textLength="12.9" lengthAdjust="spacingAndGlyphs">10</tspan></text>
<text font-size="17.6" font-family='"Liberation Serif","Noto Serif CJK SC",serif' fill="#222"><tspan x="823.29" y="693.18" textLength="12.9" lengthAdjust="spacingAndGlyphs">80</tspan></text>
<text font-size="17.6" font-family='"Liberation Serif","Noto Serif CJK SC",serif' fill="#222"><tspan x="879.71" y="693.18" textLength="12.9" lengthAdjust="spacingAndGlyphs">20</tspan></text>
<text font-size="17.6" font-family='"Liberation Serif","Noto Serif CJK SC",serif' fill="#222"><tspan x="928.1" y="693.18" textLength="11.4" lengthAdjust="spacingAndGlyphs">16</tspan><tspan x="945.8" y="693.18" text-anchor="middle">×</tspan><tspan x="952.1" y="693.18" textLength="11.4" lengthAdjust="spacingAndGlyphs">28</tspan></text>
<text font-size="17.6" font-family='"Liberation Serif","Noto Serif CJK SC",serif' fill="#222"><tspan x="980.85" y="693.18" textLength="12.9" lengthAdjust="spacingAndGlyphs">41</tspan><tspan x="996.88" y="693.18" text-anchor="middle">.</tspan><tspan x="1001.1" y="693.18" textLength="19.65" lengthAdjust="spacingAndGlyphs">310</tspan></text>
<text font-size="17.6" font-family='"Liberation Serif","Noto Serif CJK SC",serif' fill="#222"><tspan x="1041.05" y="693.18" textLength="6.75" lengthAdjust="spacingAndGlyphs">0</tspan><tspan x="1050.63" y="693.18" text-anchor="middle">.</tspan><tspan x="1054.85" y="693.18" textLength="19.65" lengthAdjust="spacingAndGlyphs">586</tspan></text>
<text font-size="17.6" font-family='"Liberation Serif","Noto Serif CJK SC",serif' fill="#222"><tspan x="1101.24" y="693.18" textLength="26.4" lengthAdjust="spacingAndGlyphs">1959</tspan></text>
<text font-size="17.6" font-family='"Liberation Serif","Noto Serif CJK SC",serif' fill="#222"><tspan x="1153.88" y="693.18" textLength="12.9" lengthAdjust="spacingAndGlyphs">22</tspan><tspan x="1169.92" y="693.18" text-anchor="middle">.</tspan><tspan x="1174.13" y="693.18" textLength="12.9" lengthAdjust="spacingAndGlyphs">31</tspan></text>
<text font-size="17.6" font-family='"Liberation Serif","Noto Serif CJK SC",serif' fill="#222"><tspan x="32.5" y="716.09" textLength="53.8" lengthAdjust="spacingAndGlyphs">SWZ500BF</tspan></text>
<text font-size="17.6" font-family='"Liberation Serif","Noto Serif CJK SC",serif' fill="#222"><tspan x="136.08" y="716.09" textLength="19.65" lengthAdjust="spacingAndGlyphs">500</tspan></text>
<text font-size="17.6" font-family='"Liberation Serif","Noto Serif CJK SC",serif' fill="#222"><tspan x="190.8" y="716.09" textLength="19.65" lengthAdjust="spacingAndGlyphs">600</tspan></text>
<text font-size="17.6" font-family='"Liberation Serif","Noto Serif CJK SC",serif' fill="#222"><tspan x="247.81" y="716.09" textLength="19.65" lengthAdjust="spacingAndGlyphs">315</tspan></text>
<text font-size="17.6" font-family='"Liberation Serif","Noto Serif CJK SC",serif' fill="#222"><tspan x="363.86" y="716.09" textLength="19.65" lengthAdjust="spacingAndGlyphs">200</tspan></text>
<text font-size="17.6" font-family='"Liberation Serif","Noto Serif CJK SC",serif' fill="#222"><tspan x="418.7" y="716.09" textLength="26.4" lengthAdjust="spacingAndGlyphs">2600</tspan></text>
<text font-size="17.6" font-family='"Liberation Serif","Noto Serif CJK SC",serif' fill="#222"><tspan x="476.39" y="716.09" textLength="19.65" lengthAdjust="spacingAndGlyphs">340</tspan></text>
<text font-size="17.6" font-family='"Liberation Serif","Noto Serif CJK SC",serif' fill="#222"><tspan x="533.21" y="716.09" textLength="19.65" lengthAdjust="spacingAndGlyphs">445</tspan></text>
<text font-size="17.6" font-family='"Liberation Serif","Noto Serif CJK SC",serif' fill="#222"><tspan x="590.1" y="716.09" textLength="19.65" lengthAdjust="spacingAndGlyphs">300</tspan></text>
<text font-size="17.6" font-family='"Liberation Serif","Noto Serif CJK SC",serif' fill="#222"><tspan x="647.55" y="716.09" textLength="19.65" lengthAdjust="spacingAndGlyphs">377</tspan></text>
<text font-size="17.6" font-family='"Liberation Serif","Noto Serif CJK SC",serif' fill="#222"><tspan x="710.85" y="716.09" textLength="12.9" lengthAdjust="spacingAndGlyphs">47</tspan></text>
<text font-size="17.6" font-family='"Liberation Serif","Noto Serif CJK SC",serif' fill="#222"><tspan x="765.57" y="716.09" textLength="12.9" lengthAdjust="spacingAndGlyphs">12</tspan></text>
<text font-size="17.6" font-family='"Liberation Serif","Noto Serif CJK SC",serif' fill="#222"><tspan x="823.29" y="716.09" textLength="12.9" lengthAdjust="spacingAndGlyphs">90</tspan></text>
<text font-size="17.6" font-family='"Liberation Serif","Noto Serif CJK SC",serif' fill="#222"><tspan x="872.96" y="716.09" textLength="12.9" lengthAdjust="spacingAndGlyphs">22</tspan><tspan x="888.99" y="716.09" text-anchor="middle">.</tspan><tspan x="892.91" y="716.09" textLength="6.75" lengthAdjust="spacingAndGlyphs">5</tspan></text>
<text font-size="17.6" font-family='"Liberation Serif","Noto Serif CJK SC",serif' fill="#222"><tspan x="928.1" y="716.09" textLength="11.4" lengthAdjust="spacingAndGlyphs">16</tspan><tspan x="945.8" y="716.09" text-anchor="middle">×</tspan><tspan x="952.1" y="716.09" textLength="11.4" lengthAdjust="spacingAndGlyphs">31</tspan></text>
<text font-size="17.6" font-family='"Liberation Serif","Noto Serif CJK SC",serif' fill="#222"><tspan x="980.85" y="716.09" textLength="12.9" lengthAdjust="spacingAndGlyphs">68</tspan><tspan x="996.88" y="716.09" text-anchor="middle">.</tspan><tspan x="1001.1" y="716.09" textLength="19.65" lengthAdjust="spacingAndGlyphs">419</tspan></text>
<text font-size="17.6" font-family='"Liberation Serif","Noto Serif CJK SC",serif' fill="#222"><tspan x="1041.05" y="716.09" textLength="6.75" lengthAdjust="spacingAndGlyphs">0</tspan><tspan x="1050.63" y="716.09" text-anchor="middle">.</tspan><tspan x="1054.85" y="716.09" textLength="19.65" lengthAdjust="spacingAndGlyphs">854</tspan></text>
<text font-size="17.6" font-family='"Liberation Serif","Noto Serif CJK SC",serif' fill="#222"><tspan x="1101.24" y="716.09" textLength="26.4" lengthAdjust="spacingAndGlyphs">2658</tspan></text>
<text font-size="17.6" font-family='"Liberation Serif","Noto Serif CJK SC",serif' fill="#222"><tspan x="1153.88" y="716.09" textLength="12.9" lengthAdjust="spacingAndGlyphs">28</tspan><tspan x="1169.92" y="716.09" text-anchor="middle">.</tspan><tspan x="1174.13" y="716.09" textLength="12.9" lengthAdjust="spacingAndGlyphs">76</tspan></text>
<text font-size="17.6" font-family='"Liberation Serif","Noto Serif CJK SC",serif' fill="#222"><tspan x="32.5" y="739" textLength="53.8" lengthAdjust="spacingAndGlyphs">SWZ550BF</tspan></text>
<text font-size="17.6" font-family='"Liberation Serif","Noto Serif CJK SC",serif' fill="#222"><tspan x="136.08" y="739" textLength="19.65" lengthAdjust="spacingAndGlyphs">550</tspan></text>
<text font-size="17.6" font-family='"Liberation Serif","Noto Serif CJK SC",serif' fill="#222"><tspan x="190.8" y="739" textLength="19.65" lengthAdjust="spacingAndGlyphs">800</tspan></text>
<text font-size="17.6" font-family='"Liberation Serif","Noto Serif CJK SC",serif' fill="#222"><tspan x="247.81" y="739" textLength="19.65" lengthAdjust="spacingAndGlyphs">400</tspan></text>
<text font-size="17.6" font-family='"Liberation Serif","Noto Serif CJK SC",serif' fill="#222"><tspan x="363.86" y="739" textLength="19.65" lengthAdjust="spacingAndGlyphs">210</tspan></text>
<text font-size="17.6" font-family='"Liberation Serif","Noto Serif CJK SC",serif' fill="#222"><tspan x="418.7" y="739" textLength="26.4" lengthAdjust="spacingAndGlyphs">2670</tspan></text>
<text font-size="17.6" font-family='"Liberation Serif","Noto Serif CJK SC",serif' fill="#222"><tspan x="476.39" y="739" textLength="19.65" lengthAdjust="spacingAndGlyphs">355</tspan></text>
<text font-size="17.6" font-family='"Liberation Serif","Noto Serif CJK SC",serif' fill="#222"><tspan x="533.21" y="739" textLength="19.65" lengthAdjust="spacingAndGlyphs">492</tspan></text>
<text font-size="17.6" font-family='"Liberation Serif","Noto Serif CJK SC",serif' fill="#222"><tspan x="590.1" y="739" textLength="19.65" lengthAdjust="spacingAndGlyphs">320</tspan></text>
<text font-size="17.6" font-family='"Liberation Serif","Noto Serif CJK SC",serif' fill="#222"><tspan x="647.55" y="739" textLength="19.65" lengthAdjust="spacingAndGlyphs">426</tspan></text>
<text font-size="17.6" font-family='"Liberation Serif","Noto Serif CJK SC",serif' fill="#222"><tspan x="710.85" y="739" textLength="12.9" lengthAdjust="spacingAndGlyphs">50</tspan></text>
<text font-size="17.6" font-family='"Liberation Serif","Noto Serif CJK SC",serif' fill="#222"><tspan x="765.57" y="739" textLength="12.9" lengthAdjust="spacingAndGlyphs">12</tspan></text>
<text font-size="17.6" font-family='"Liberation Serif","Noto Serif CJK SC",serif' fill="#222"><tspan x="819.91" y="739" textLength="19.65" lengthAdjust="spacingAndGlyphs">100</tspan></text>
<text font-size="17.6" font-family='"Liberation Serif","Noto Serif CJK SC",serif' fill="#222"><tspan x="872.96" y="739" textLength="12.9" lengthAdjust="spacingAndGlyphs">22</tspan><tspan x="888.99" y="739" text-anchor="middle">.</tspan><tspan x="892.91" y="739" textLength="6.75" lengthAdjust="spacingAndGlyphs">5</tspan></text>
<text font-size="17.6" font-family='"Liberation Serif","Noto Serif CJK SC",serif' fill="#222"><tspan x="928.1" y="739" textLength="11.4" lengthAdjust="spacingAndGlyphs">16</tspan><tspan x="945.8" y="739" text-anchor="middle">×</tspan><tspan x="952.1" y="739" textLength="11.4" lengthAdjust="spacingAndGlyphs">31</tspan></text>
<text font-size="17.6" font-family='"Liberation Serif","Noto Serif CJK SC",serif' fill="#222"><tspan x="978.35" y="739" textLength="18.9" lengthAdjust="spacingAndGlyphs">106</tspan><tspan x="1000.28" y="739" text-anchor="middle">.</tspan><tspan x="1004.35" y="739" textLength="18.9" lengthAdjust="spacingAndGlyphs">809</tspan></text>
<text font-size="17.6" font-family='"Liberation Serif","Noto Serif CJK SC",serif' fill="#222"><tspan x="1041.05" y="739" textLength="6.75" lengthAdjust="spacingAndGlyphs">1</tspan><tspan x="1050.63" y="739" text-anchor="middle">.</tspan><tspan x="1054.85" y="739" textLength="19.65" lengthAdjust="spacingAndGlyphs">272</tspan></text>
<text font-size="17.6" font-family='"Liberation Serif","Noto Serif CJK SC",serif' fill="#222"><tspan x="1101.24" y="739" textLength="26.4" lengthAdjust="spacingAndGlyphs">3384</tspan></text>
<text font-size="17.6" font-family='"Liberation Serif","Noto Serif CJK SC",serif' fill="#222"><tspan x="1153.88" y="739" textLength="12.9" lengthAdjust="spacingAndGlyphs">32</tspan><tspan x="1169.92" y="739" text-anchor="middle">.</tspan><tspan x="1174.13" y="739" textLength="12.9" lengthAdjust="spacingAndGlyphs">87</tspan></text>
<text font-size="17.6" font-family='"Liberation Serif","Noto Serif CJK SC",serif' fill="#222"><tspan x="303.8" y="625.25" font-size="21">≤</tspan><tspan x="316.7" y="624.85" textLength="12.4" lengthAdjust="spacingAndGlyphs">10</tspan></text>
<text font-size="17.2" font-family='"Liberation Serif","Noto Serif CJK SC",serif' fill="#222"><tspan x="6.6" y="774.8" font-size="15.6" textLength="27.08" lengthAdjust="spacingAndGlyphs">注：</tspan><tspan x="33" y="774.8" textLength="6.77" lengthAdjust="spacingAndGlyphs">1</tspan><tspan x="42.61" y="774.8" text-anchor="middle">.</tspan><tspan x="45.79" y="774.8" textLength="8.27" lengthAdjust="spacingAndGlyphs">T</tspan><tspan x="53.61" y="775.5" font-size="5.5" fill="#444">f</tspan><tspan x="56.31" y="774.8" font-size="15.6" textLength="257.26" lengthAdjust="spacingAndGlyphs">—在交变负荷下按疲劳强度所允许的转矩。</tspan></text>
<text font-size="17.2" font-family='"Liberation Serif","Noto Serif CJK SC",serif' fill="#222"><tspan x="33.2" y="794.6" textLength="6.77" lengthAdjust="spacingAndGlyphs">2</tspan><tspan x="42.81" y="794.6" text-anchor="middle">.</tspan><tspan x="45.99" y="794.6" textLength="8.27" lengthAdjust="spacingAndGlyphs">L</tspan><tspan x="53.71" y="795.2" font-size="5.8" textLength="8.6" lengthAdjust="spacingAndGlyphs" fill="#444">min</tspan><tspan x="63.11" y="794.6" font-size="15.6" textLength="135.4" lengthAdjust="spacingAndGlyphs">—缩短后的最小长度。</tspan></text>
<text font-size="17.2" font-family='"Liberation Serif","Noto Serif CJK SC",serif' fill="#222"><tspan x="33.2" y="814" textLength="6.77" lengthAdjust="spacingAndGlyphs">3</tspan><tspan x="42.81" y="814" text-anchor="middle">.</tspan><tspan x="45.99" y="814" textLength="8.27" lengthAdjust="spacingAndGlyphs">L</tspan><tspan x="53.31" y="814" font-size="15.6" textLength="162.48" lengthAdjust="spacingAndGlyphs">—安装长度，按需要确定。</tspan></text>
<text font-size="17.2" font-family='"Liberation Serif","Noto Serif CJK SC",serif' fill="#222"><tspan x="438.9" y="773.9" textLength="46.19" lengthAdjust="spacingAndGlyphs">remark:</tspan> <tspan x="492.08" y="773.9" textLength="6.68" lengthAdjust="spacingAndGlyphs">1</tspan><tspan x="501.57" y="773.9" text-anchor="middle">.</tspan><tspan x="504.71" y="773.9" textLength="8.17" lengthAdjust="spacingAndGlyphs">T</tspan><tspan x="512.43" y="774.6" font-size="5.5" fill="#444">f</tspan><tspan x="514.53" y="773.9" font-size="15.6" textLength="13.37" lengthAdjust="spacingAndGlyphs">—</tspan><tspan x="528.2" y="773.9" textLength="72.94" lengthAdjust="spacingAndGlyphs">Permissible</tspan> <tspan x="608.42" y="773.9" textLength="39.51" lengthAdjust="spacingAndGlyphs">torque</tspan> <tspan x="655.22" y="773.9" textLength="12.77" lengthAdjust="spacingAndGlyphs">as</tspan> <tspan x="675.27" y="773.9" textLength="19.45" lengthAdjust="spacingAndGlyphs">per</tspan> <tspan x="702.01" y="773.9" textLength="19.45" lengthAdjust="spacingAndGlyphs">the</tspan> <tspan x="728.75" y="773.9" textLength="12.77" lengthAdjust="spacingAndGlyphs">to</tspan> <tspan x="748.81" y="773.9" textLength="46.19" lengthAdjust="spacingAndGlyphs">fatigue</tspan> <tspan x="802.29" y="773.9" textLength="52.88" lengthAdjust="spacingAndGlyphs">strength</tspan> <tspan x="862.45" y="773.9" textLength="32.82" lengthAdjust="spacingAndGlyphs">under</tspan> <tspan x="902.56" y="773.9" textLength="59.56" lengthAdjust="spacingAndGlyphs">alternate</tspan> <tspan x="969.41" y="773.9" textLength="26.14" lengthAdjust="spacingAndGlyphs">load</tspan><tspan x="998.66" y="773.9" text-anchor="middle">.</tspan></text>
<text font-size="17.2" font-family='"Liberation Serif","Noto Serif CJK SC",serif' fill="#222"><tspan x="492.4" y="793.6" textLength="6.68" lengthAdjust="spacingAndGlyphs">2</tspan><tspan x="501.89" y="793.6" text-anchor="middle">.</tspan><tspan x="505.03" y="793.6" textLength="8.17" lengthAdjust="spacingAndGlyphs">L</tspan><tspan x="512.65" y="794.2" font-size="5.8" textLength="8.4" lengthAdjust="spacingAndGlyphs" fill="#444">min</tspan><tspan x="520.85" y="793.6" font-size="15.6" textLength="13.37" lengthAdjust="spacingAndGlyphs">—</tspan><tspan x="534.52" y="793.6" textLength="46.19" lengthAdjust="spacingAndGlyphs">Minimum</tspan> <tspan x="588" y="793.6" textLength="39.51" lengthAdjust="spacingAndGlyphs">length</tspan> <tspan x="634.8" y="793.6" textLength="32.82" lengthAdjust="spacingAndGlyphs">after</tspan> <tspan x="674.91" y="793.6" textLength="52.88" lengthAdjust="spacingAndGlyphs">reducing</tspan><tspan x="730.9" y="793.6" text-anchor="middle">.</tspan></text>
<text font-size="17.2" font-family='"Liberation Serif","Noto Serif CJK SC",serif' fill="#222"><tspan x="492.4" y="812.8" textLength="6.68" lengthAdjust="spacingAndGlyphs">3</tspan><tspan x="501.89" y="812.8" text-anchor="middle">.</tspan><tspan x="505.03" y="812.8" textLength="8.17" lengthAdjust="spacingAndGlyphs">L</tspan><tspan x="512.45" y="812.8" font-size="15.6" textLength="13.37" lengthAdjust="spacingAndGlyphs">—</tspan><tspan x="526.12" y="812.8" textLength="52.88" lengthAdjust="spacingAndGlyphs">Mounting</tspan> <tspan x="586.29" y="812.8" textLength="59.56" lengthAdjust="spacingAndGlyphs">dimension</tspan> <tspan x="653.14" y="812.8" textLength="66.25" lengthAdjust="spacingAndGlyphs">determined</tspan> <tspan x="726.67" y="812.8" textLength="12.77" lengthAdjust="spacingAndGlyphs">by</tspan> <tspan x="746.73" y="812.8" textLength="19.45" lengthAdjust="spacingAndGlyphs">the</tspan> <tspan x="773.47" y="812.8" textLength="72.94" lengthAdjust="spacingAndGlyphs">requirement</tspan><tspan x="849.51" y="812.8" text-anchor="middle">.</tspan></text>
<line x1="283.6" y1="53.5" x2="283.6" y2="92" stroke="#000" stroke-width="1.3"/>
<line x1="283.6" y1="57.2" x2="907.5" y2="57.2" stroke="#000" stroke-width="1.27"/>
<polygon points="283.9,57.2 289.4,56.3 289.4,58.1" fill="#000"/>
<polygon points="907.3,57.2 901.8,58.1 901.8,56.3" fill="#000"/>
<text x="595.8" y="55" font-size="10.5" font-family='"Liberation Sans","Noto Sans CJK SC",sans-serif' fill="#000" text-anchor="middle" textLength="5" lengthAdjust="spacingAndGlyphs" stroke="#000" stroke-width="0.55">L</text>
<line x1="283.6" y1="77" x2="369.2" y2="77" stroke="#000" stroke-width="1.27"/>
<polygon points="283.9,77 289.4,76.1 289.4,77.9" fill="#000"/>
<polygon points="369,77 363.5,77.9 363.5,76.1" fill="#000"/>
<text x="321.5" y="74.8" font-size="10.5" font-family='"Liberation Sans","Noto Sans CJK SC",sans-serif' fill="#000" stroke="#000" stroke-width="0.55"><tspan textLength="5" lengthAdjust="spacingAndGlyphs">L</tspan><tspan font-size="7" dx="0.1" dy="0" textLength="4.8" lengthAdjust="spacingAndGlyphs">m</tspan></text>
<line x1="456.8" y1="73" x2="456.8" y2="97" stroke="#000" stroke-width="1.27"/>
<line x1="474.2" y1="73" x2="474.2" y2="102" stroke="#000" stroke-width="1.27"/>
<line x1="446" y1="77.3" x2="486" y2="77.3" stroke="#000" stroke-width="1.27"/>
<polygon points="456.8,77.3 452.3,78.2 452.3,76.4" fill="#000"/>
<polygon points="474.2,77.3 478.7,76.4 478.7,78.2" fill="#000"/>
<text x="466" y="74.6" font-size="10.5" font-family='"Liberation Sans","Noto Sans CJK SC",sans-serif' fill="#000" text-anchor="middle" textLength="6" lengthAdjust="spacingAndGlyphs" stroke="#000" stroke-width="0.55">S</text>
<line x1="250" y1="150.3" x2="274" y2="150.3" stroke="#000" stroke-width="1.23"/>
<line x1="275.5" y1="150.3" x2="327.5" y2="150.3" stroke="#000" stroke-width="1.23"/>
<line x1="331" y1="150.3" x2="346" y2="150.3" stroke="#000" stroke-width="1.23"/>
<line x1="350" y1="150.3" x2="360" y2="150.3" stroke="#000" stroke-width="1.23"/>
<line x1="378" y1="150.3" x2="396" y2="150.3" stroke="#000" stroke-width="1.23"/>
<line x1="402" y1="150.3" x2="427" y2="150.3" stroke="#000" stroke-width="1.23"/>
<line x1="435" y1="150.3" x2="563" y2="150.3" stroke="#000" stroke-width="1.23" stroke-dasharray="52,3,8,3"/>
<line x1="566" y1="150.3" x2="574" y2="150.3" stroke="#000" stroke-width="1.23"/>
<line x1="580" y1="150.3" x2="591" y2="150.3" stroke="#000" stroke-width="1.23"/>
<line x1="605" y1="150.3" x2="652" y2="150.3" stroke="#000" stroke-width="1.23"/>
<line x1="671" y1="150.3" x2="702" y2="150.3" stroke="#000" stroke-width="1.23"/>
<line x1="710" y1="150.3" x2="720" y2="150.3" stroke="#000" stroke-width="1.23"/>
<line x1="731" y1="150.3" x2="812" y2="150.3" stroke="#000" stroke-width="1.23" stroke-dasharray="60,3,6,3"/>
<line x1="832" y1="150.3" x2="842" y2="150.3" stroke="#000" stroke-width="1.23"/>
<line x1="846" y1="150.3" x2="866" y2="150.3" stroke="#000" stroke-width="1.23"/>
<line x1="872" y1="150.3" x2="886" y2="150.3" stroke="#000" stroke-width="1.23"/>
<line x1="890" y1="150.3" x2="922" y2="150.3" stroke="#000" stroke-width="1.23"/>
<path d="M283.6,92 L292.2,92 L292.2,208.8 L283.6,208.8 Z" stroke="#000" stroke-width="1.69" fill="none"/>
<line x1="279.5" y1="97.1" x2="296" y2="97.1" stroke="#000" stroke-width="1.27"/>
<line x1="279.5" y1="203.4" x2="296" y2="203.4" stroke="#000" stroke-width="1.27"/>
<rect x="279" y="141.6" width="9.2" height="17.5" stroke="#000" stroke-width="1.69" fill="#fff"/>
<line x1="279" y1="150.3" x2="288" y2="150.3" stroke="#000" stroke-width="1.17"/>
<line x1="292.2" y1="102.1" x2="309.5" y2="102.1" stroke="#000" stroke-width="1.69"/>
<line x1="292.2" y1="198.5" x2="309.5" y2="198.5" stroke="#000" stroke-width="1.69"/>
<line x1="369.2" y1="150.3" x2="254.2" y2="179.7" stroke="#000" stroke-width="1.23"/>
<path d="M253.6,150.6 A115.6,115.6 0 0 0 257.3,178.8" stroke="#000" stroke-width="1.17" fill="none"/>
<polygon points="253.6,151 254.24,155.53 252.64,155.47" fill="#000"/>
<polygon points="257.4,178.9 257.39,174.33 258.97,174.61" fill="#000"/>
<text x="262.6" y="168" font-size="10" font-family='"Liberation Sans","Noto Sans CJK SC",sans-serif' fill="#000" transform="rotate(-80 262.6 168)" font-weight="bold" stroke="#000" stroke-width="0.8">β</text>
<path d="M309.5,102.1 L317.5,93.7 L334.9,93.7 L336.4,94.9 L348.9,95 L348.9,104.1" stroke="#000" stroke-width="1.69" fill="none"/>
<path d="M309.5,198.5 L317.5,206.9 L334.9,206.9 L336.4,205.7 L348.9,205.6 L348.9,196.5" stroke="#000" stroke-width="1.69" fill="none"/>
<line x1="309.5" y1="102.1" x2="309.5" y2="198.5" stroke="#000" stroke-width="1.69"/>
<line x1="317.5" y1="93.7" x2="317.5" y2="206.9" stroke="#000" stroke-width="1.69"/>
<path d="M347.7,101.6 L341.4,101.6 A7.2,7.2 0 0 0 334.2,108.8 L334.2,150.3" stroke="#000" stroke-width="1.69" fill="none"/>
<path d="M347.7,199 L341.4,199 A7.2,7.2 0 0 1 334.2,191.8 L334.2,150.3" stroke="#000" stroke-width="1.69" fill="none"/>
<path d="M348.9,112.6 L341.7,112.6 A6.3,6.3 0 0 0 335.4,118.9" stroke="#000" stroke-width="1.69" fill="none"/>
<path d="M348.9,188 L341.7,188 A6.3,6.3 0 0 1 335.4,181.7" stroke="#000" stroke-width="1.69" fill="none"/>
<path d="M348.9,119.1 L343.4,119.1 A8,8 0 0 0 335.4,127.1 L335.4,150.3" stroke="#000" stroke-width="1.69" fill="none"/>
<path d="M348.9,181.5 L343.4,181.5 A8,8 0 0 1 335.4,173.5 L335.4,150.3" stroke="#000" stroke-width="1.69" fill="none"/>
<path d="M391.9,119.1 L391.9,101.1 L384.9,96.9 L357.4,96.9 L348.9,100.6" stroke="#000" stroke-width="1.69" fill="none"/>
<path d="M391.9,181.5 L391.9,199.5 L384.9,203.7 L357.4,203.7 L348.9,200" stroke="#000" stroke-width="1.69" fill="none"/>
<path d="M357.4,96.9 L357.4,100.4 L348.9,104.1" stroke="#000" stroke-width="1.3" fill="none"/>
<path d="M357.4,203.7 L357.4,200.2 L348.9,196.5" stroke="#000" stroke-width="1.3" fill="none"/>
<path d="M384.9,96.9 L384.9,119.1" stroke="#000" stroke-width="1.43" fill="none"/>
<path d="M384.9,203.7 L384.9,181.5" stroke="#000" stroke-width="1.43" fill="none"/>
<path d="M391.9,101.9 L384.9,101.9" stroke="#000" stroke-width="2.08" fill="none"/>
<path d="M391.9,198.7 L384.9,198.7" stroke="#000" stroke-width="2.08" fill="none"/>
<path d="M391.9,103.9 L384.9,103.9" stroke="#000" stroke-width="1.56" fill="none"/>
<path d="M391.9,196.7 L384.9,196.7" stroke="#000" stroke-width="1.56" fill="none"/>
<path d="M384.9,102.1 L357.4,102.1" stroke="#000" stroke-width="1.56" fill="none"/>
<path d="M384.9,198.5 L357.4,198.5" stroke="#000" stroke-width="1.56" fill="none"/>
<path d="M391.9,112.6 L348.9,112.6" stroke="#000" stroke-width="1.82" fill="none"/>
<path d="M391.9,188 L348.9,188" stroke="#000" stroke-width="1.82" fill="none"/>
<path d="M391.9,119.1 L348.9,119.1" stroke="#000" stroke-width="1.82" fill="none"/>
<path d="M391.9,181.5 L348.9,181.5" stroke="#000" stroke-width="1.82" fill="none"/>
<path d="M395.2,108.6 L329.2,108.6" stroke="#000" stroke-width="1.17" fill="none"/>
<path d="M395.2,192 L329.2,192" stroke="#000" stroke-width="1.17" fill="none"/>
<path d="M365.8,96.9 A3.4,3.4 0 0 1 372.6,96.9" stroke="#000" stroke-width="1.43" fill="none"/>
<path d="M365.8,203.7 A3.4,3.4 0 0 0 372.6,203.7" stroke="#000" stroke-width="1.43" fill="none"/>
<line x1="369.2" y1="73" x2="369.2" y2="90.5" stroke="#000" stroke-width="1.23"/>
<line x1="369.2" y1="93.3" x2="369.2" y2="126.7" stroke="#000" stroke-width="1.23"/>
<line x1="369.2" y1="131" x2="369.2" y2="136.7" stroke="#000" stroke-width="1.23"/>
<line x1="369.2" y1="157.8" x2="369.2" y2="166" stroke="#000" stroke-width="1.23"/>
<line x1="369.2" y1="170.5" x2="369.2" y2="204" stroke="#000" stroke-width="1.23"/>
<line x1="369.2" y1="206.5" x2="369.2" y2="211" stroke="#000" stroke-width="1.23"/>
<line x1="387.9" y1="119.1" x2="387.9" y2="181.5" stroke="#000" stroke-width="1.56"/>
<line x1="381.4" y1="119.1" x2="381.4" y2="181.5" stroke="#000" stroke-width="1.56"/>
<line x1="356.9" y1="119.1" x2="356.9" y2="181.5" stroke="#000" stroke-width="1.56"/>
<line x1="384.9" y1="119.1" x2="384.9" y2="181.5" stroke="#000" stroke-width="1.43"/>
<path d="M392.2,126.9 L345.2,126.9" stroke="#000" stroke-width="1.17" fill="none"/>
<path d="M392.2,173.7 L345.2,173.7" stroke="#000" stroke-width="1.17" fill="none"/>
<path d="M353.4,119.1 L353.4,133.1 L348.9,133.1 L348.9,120.6 L353.4,120.6" stroke="#000" stroke-width="1.43" fill="none"/>
<path d="M353.4,181.5 L353.4,167.5 L348.9,167.5 L348.9,180 L353.4,180" stroke="#000" stroke-width="1.43" fill="none"/>
<path d="M351.3,120.6 L351.3,133.1" stroke="#000" stroke-width="1.17" fill="none"/>
<path d="M351.3,180 L351.3,167.5" stroke="#000" stroke-width="1.17" fill="none"/>
<path d="M352.2,133.1 L352.2,136.9 L349.6,139.9 L349.6,150.3" stroke="#000" stroke-width="1.95" fill="none"/>
<path d="M352.2,167.5 L352.2,163.7 L349.6,160.7 L349.6,150.3" stroke="#000" stroke-width="1.95" fill="none"/>
<path d="M353.4,137.8 L353.4,150.3" stroke="#000" stroke-width="0.78" fill="none"/>
<path d="M353.4,162.8 L353.4,150.3" stroke="#000" stroke-width="0.78" fill="none"/>
<path d="M387.9,143.7 L399,143.7 L399,150.3" stroke="#000" stroke-width="1.62" fill="none"/>
<path d="M387.9,156.9 L399,156.9 L399,150.3" stroke="#000" stroke-width="1.62" fill="none"/>
<path d="M395.4,143.7 L395.4,150.3" stroke="#000" stroke-width="1.43" fill="none"/>
<path d="M395.4,156.9 L395.4,150.3" stroke="#000" stroke-width="1.43" fill="none"/>
<circle cx="369.2" cy="150.3" r="7.2" stroke="#000" stroke-width="1.3" fill="none"/>
<circle cx="369.2" cy="150.3" r="5.2" stroke="#000" stroke-width="0.72" fill="none"/>
<circle cx="369.2" cy="150.3" r="3.4" stroke="#000" stroke-width="0.78" fill="none"/>
<line x1="365.8" y1="150.3" x2="372.6" y2="150.3" stroke="#000" stroke-width="0.78"/>
<line x1="369.2" y1="146.9" x2="369.2" y2="153.7" stroke="#000" stroke-width="0.78"/>
<path d="M415.4,102 L410.4,96.6 L402.9,96.6 L402.9,108.8 A10.4,10.4 0 0 1 392.5,119.1" stroke="#000" stroke-width="1.69" fill="none"/>
<path d="M415.4,198.6 L410.4,204 L402.9,204 L402.9,191.8 A10.4,10.4 0 0 0 392.5,181.5" stroke="#000" stroke-width="1.69" fill="none"/>
<line x1="410.4" y1="96.6" x2="410.4" y2="204" stroke="#000" stroke-width="1.69"/>
<line x1="415.4" y1="102" x2="415.4" y2="198.6" stroke="#000" stroke-width="1.69"/>
<path d="M881.9,102.1 L873.9,93.7 L856.5,93.7 L855,94.9 L842.5,95 L842.5,104.1" stroke="#000" stroke-width="1.69" fill="none"/>
<path d="M881.9,198.5 L873.9,206.9 L856.5,206.9 L855,205.7 L842.5,205.6 L842.5,196.5" stroke="#000" stroke-width="1.69" fill="none"/>
<line x1="881.9" y1="102.1" x2="881.9" y2="198.5" stroke="#000" stroke-width="1.69"/>
<line x1="873.9" y1="93.7" x2="873.9" y2="206.9" stroke="#000" stroke-width="1.69"/>
<path d="M843.7,101.6 L850,101.6 A7.2,7.2 0 0 1 857.2,108.8 L857.2,150.3" stroke="#000" stroke-width="1.69" fill="none"/>
<path d="M843.7,199 L850,199 A7.2,7.2 0 0 0 857.2,191.8 L857.2,150.3" stroke="#000" stroke-width="1.69" fill="none"/>
<path d="M842.5,112.6 L849.7,112.6 A6.3,6.3 0 0 1 856,118.9" stroke="#000" stroke-width="1.69" fill="none"/>
<path d="M842.5,188 L849.7,188 A6.3,6.3 0 0 0 856,181.7" stroke="#000" stroke-width="1.69" fill="none"/>
<path d="M842.5,119.1 L848,119.1 A8,8 0 0 1 856,127.1 L856,150.3" stroke="#000" stroke-width="1.69" fill="none"/>
<path d="M842.5,181.5 L848,181.5 A8,8 0 0 0 856,173.5 L856,150.3" stroke="#000" stroke-width="1.69" fill="none"/>
<path d="M799.5,119.1 L799.5,101.1 L806.5,96.9 L834,96.9 L842.5,100.6" stroke="#000" stroke-width="1.69" fill="none"/>
<path d="M799.5,181.5 L799.5,199.5 L806.5,203.7 L834,203.7 L842.5,200" stroke="#000" stroke-width="1.69" fill="none"/>
<path d="M834,96.9 L834,100.4 L842.5,104.1" stroke="#000" stroke-width="1.3" fill="none"/>
<path d="M834,203.7 L834,200.2 L842.5,196.5" stroke="#000" stroke-width="1.3" fill="none"/>
<path d="M806.5,96.9 L806.5,119.1" stroke="#000" stroke-width="1.43" fill="none"/>
<path d="M806.5,203.7 L806.5,181.5" stroke="#000" stroke-width="1.43" fill="none"/>
<path d="M799.5,101.9 L806.5,101.9" stroke="#000" stroke-width="2.08" fill="none"/>
<path d="M799.5,198.7 L806.5,198.7" stroke="#000" stroke-width="2.08" fill="none"/>
<path d="M799.5,103.9 L806.5,103.9" stroke="#000" stroke-width="1.56" fill="none"/>
<path d="M799.5,196.7 L806.5,196.7" stroke="#000" stroke-width="1.56" fill="none"/>
<path d="M806.5,102.1 L834,102.1" stroke="#000" stroke-width="1.56" fill="none"/>
<path d="M806.5,198.5 L834,198.5" stroke="#000" stroke-width="1.56" fill="none"/>
<path d="M799.5,112.6 L842.5,112.6" stroke="#000" stroke-width="1.82" fill="none"/>
<path d="M799.5,188 L842.5,188" stroke="#000" stroke-width="1.82" fill="none"/>
<path d="M799.5,119.1 L842.5,119.1" stroke="#000" stroke-width="1.82" fill="none"/>
<path d="M799.5,181.5 L842.5,181.5" stroke="#000" stroke-width="1.82" fill="none"/>
<path d="M796.2,108.6 L862.2,108.6" stroke="#000" stroke-width="1.17" fill="none"/>
<path d="M796.2,192 L862.2,192" stroke="#000" stroke-width="1.17" fill="none"/>
<path d="M818.8,96.9 A3.4,3.4 0 0 1 825.6,96.9" stroke="#000" stroke-width="1.43" fill="none"/>
<path d="M818.8,203.7 A3.4,3.4 0 0 0 825.6,203.7" stroke="#000" stroke-width="1.43" fill="none"/>
<line x1="822.2" y1="90" x2="822.2" y2="137" stroke="#000" stroke-width="1.23"/>
<line x1="822.2" y1="157.8" x2="822.2" y2="166" stroke="#000" stroke-width="1.23"/>
<line x1="822.2" y1="170.5" x2="822.2" y2="204" stroke="#000" stroke-width="1.23"/>
<line x1="822.2" y1="206.5" x2="822.2" y2="211" stroke="#000" stroke-width="1.23"/>
<line x1="803.5" y1="119.1" x2="803.5" y2="181.5" stroke="#000" stroke-width="1.56"/>
<line x1="810" y1="119.1" x2="810" y2="181.5" stroke="#000" stroke-width="1.56"/>
<line x1="834.5" y1="119.1" x2="834.5" y2="181.5" stroke="#000" stroke-width="1.56"/>
<line x1="806.5" y1="119.1" x2="806.5" y2="181.5" stroke="#000" stroke-width="1.43"/>
<path d="M799.2,126.9 L846.2,126.9" stroke="#000" stroke-width="1.17" fill="none"/>
<path d="M799.2,173.7 L846.2,173.7" stroke="#000" stroke-width="1.17" fill="none"/>
<path d="M838,119.1 L838,133.1 L842.5,133.1 L842.5,120.6 L838,120.6" stroke="#000" stroke-width="1.43" fill="none"/>
<path d="M838,181.5 L838,167.5 L842.5,167.5 L842.5,180 L838,180" stroke="#000" stroke-width="1.43" fill="none"/>
<path d="M840.1,120.6 L840.1,133.1" stroke="#000" stroke-width="1.17" fill="none"/>
<path d="M840.1,180 L840.1,167.5" stroke="#000" stroke-width="1.17" fill="none"/>
<path d="M839.2,133.1 L839.2,136.9 L841.8,139.9 L841.8,150.3" stroke="#000" stroke-width="1.95" fill="none"/>
<path d="M839.2,167.5 L839.2,163.7 L841.8,160.7 L841.8,150.3" stroke="#000" stroke-width="1.95" fill="none"/>
<path d="M838,137.8 L838,150.3" stroke="#000" stroke-width="0.78" fill="none"/>
<path d="M838,162.8 L838,150.3" stroke="#000" stroke-width="0.78" fill="none"/>
<path d="M803.5,143.7 L792.4,143.7 L792.4,150.3" stroke="#000" stroke-width="1.62" fill="none"/>
<path d="M803.5,156.9 L792.4,156.9 L792.4,150.3" stroke="#000" stroke-width="1.62" fill="none"/>
<path d="M796,143.7 L796,150.3" stroke="#000" stroke-width="1.43" fill="none"/>
<path d="M796,156.9 L796,150.3" stroke="#000" stroke-width="1.43" fill="none"/>
<circle cx="822.2" cy="150.3" r="7.2" stroke="#000" stroke-width="1.3" fill="none"/>
<circle cx="822.2" cy="150.3" r="5.2" stroke="#000" stroke-width="0.72" fill="none"/>
<circle cx="822.2" cy="150.3" r="3.4" stroke="#000" stroke-width="0.78" fill="none"/>
<line x1="818.8" y1="150.3" x2="825.6" y2="150.3" stroke="#000" stroke-width="0.78"/>
<line x1="822.2" y1="146.9" x2="822.2" y2="153.7" stroke="#000" stroke-width="0.78"/>
<path d="M776,102 L781,96.6 L788.5,96.6 L788.5,108.8 A10.4,10.4 0 0 0 798.9,119.1" stroke="#000" stroke-width="1.69" fill="none"/>
<path d="M776,198.6 L781,204 L788.5,204 L788.5,191.8 A10.4,10.4 0 0 1 798.9,181.5" stroke="#000" stroke-width="1.69" fill="none"/>
<line x1="781" y1="96.6" x2="781" y2="204" stroke="#000" stroke-width="1.69"/>
<line x1="776" y1="102" x2="776" y2="198.6" stroke="#000" stroke-width="1.69"/>
<line x1="415.4" y1="102" x2="438" y2="102" stroke="#000" stroke-width="1.69"/>
<line x1="415.4" y1="198.6" x2="438" y2="198.6" stroke="#000" stroke-width="1.69"/>
<path d="M438,91.8 L453.5,91.8 L453.5,102" stroke="#000" stroke-width="1.69" fill="none"/>
<line x1="438" y1="91.8" x2="438" y2="208.8" stroke="#000" stroke-width="1.69"/>
<line x1="444" y1="91.8" x2="444" y2="208.8" stroke="#000" stroke-width="1.69"/>
<path d="M438,208.8 L453.5,208.8 L453.5,150.3" stroke="#000" stroke-width="1.69" fill="none"/>
<line x1="452" y1="150.3" x2="452" y2="198" stroke="#000" stroke-width="1.3"/>
<line x1="434.5" y1="97" x2="457" y2="97" stroke="#000" stroke-width="1.27"/>
<line x1="434.5" y1="203.3" x2="457" y2="203.3" stroke="#000" stroke-width="1.27"/>
<line x1="457" y1="97" x2="457" y2="150.3" stroke="#000" stroke-width="1.69"/>
<clipPath id="h1"><path d="M444,91.8 L453.5,91.8 L453.5,102 L457,102 L457,150.3 L444,150.3 Z"/></clipPath>
<g clip-path="url(#h1)" stroke="#000" stroke-width="1.17">
<line x1="387.5" y1="150.3" x2="446" y2="91.8"/>
<line x1="393.7" y1="150.3" x2="452.2" y2="91.8"/>
<line x1="399.9" y1="150.3" x2="458.4" y2="91.8"/>
<line x1="406.1" y1="150.3" x2="464.6" y2="91.8"/>
<line x1="412.3" y1="150.3" x2="470.8" y2="91.8"/>
<line x1="418.5" y1="150.3" x2="477" y2="91.8"/>
<line x1="424.7" y1="150.3" x2="483.2" y2="91.8"/>
<line x1="430.9" y1="150.3" x2="489.4" y2="91.8"/>
<line x1="437.1" y1="150.3" x2="495.6" y2="91.8"/>
<line x1="443.3" y1="150.3" x2="501.8" y2="91.8"/>
<line x1="449.5" y1="150.3" x2="508" y2="91.8"/>
<line x1="455.7" y1="150.3" x2="514.2" y2="91.8"/>
<line x1="461.9" y1="150.3" x2="520.4" y2="91.8"/>
<line x1="468.1" y1="150.3" x2="526.6" y2="91.8"/>
<line x1="474.3" y1="150.3" x2="532.8" y2="91.8"/>
<line x1="480.5" y1="150.3" x2="539" y2="91.8"/>
<line x1="486.7" y1="150.3" x2="545.2" y2="91.8"/>
<line x1="492.9" y1="150.3" x2="551.4" y2="91.8"/>
<line x1="499.1" y1="150.3" x2="557.6" y2="91.8"/>
<line x1="505.3" y1="150.3" x2="563.8" y2="91.8"/>
<line x1="511.5" y1="150.3" x2="570" y2="91.8"/>
</g>
<path d="M453.5,102 L475.5,102 C480,102 481,106.9 487,107.1 L555,107.3 L555,109.5 L562,109.5 L562,119.3" stroke="#000" stroke-width="1.69" fill="none"/>
<line x1="556.2" y1="109.5" x2="556.2" y2="118.7" stroke="#000" stroke-width="1.3"/>
<line x1="552.5" y1="114" x2="565.5" y2="114" stroke="#000" stroke-width="1.04"/>
<path d="M459.6,150.3 L459.6,122 Q459.6,118.7 463,118.7 L562,118.7" stroke="#000" stroke-width="1.56" fill="none"/>
<path d="M462.2,150.3 L462.2,123.5 Q462.2,121 464.7,121 L563,121" stroke="#000" stroke-width="1.56" fill="none"/>
<circle cx="463.6" cy="101.9" r="1.6" stroke="#000" stroke-width="1.04" fill="#000"/>
<path d="M464.6,102 L464.6,112.8 L473,112.8 M470.2,112.8 L470.2,118.5 M473,112.8 L473,118.5" stroke="#000" stroke-width="1.3" fill="none"/>
<path d="M457,112 Q461,116 466,116.5 L470,116.5" stroke="#000" stroke-width="1.17" fill="none"/>
<clipPath id="h2"><path d="M457,102 L475.5,102 C480,102 481,106.9 487,107.1 L555,107.3 L555,118.7 L473,118.7 L473,112.8 L464.6,112.8 L464.6,102 L464.6,116 L457,112 Z"/></clipPath>
<g clip-path="url(#h2)" stroke="#000" stroke-width="1.17">
<line x1="443.8" y1="118.7" x2="460.5" y2="102"/>
<line x1="451.4" y1="118.7" x2="468.1" y2="102"/>
<line x1="459" y1="118.7" x2="475.7" y2="102"/>
<line x1="466.6" y1="118.7" x2="483.3" y2="102"/>
<line x1="474.2" y1="118.7" x2="490.9" y2="102"/>
<line x1="481.8" y1="118.7" x2="498.5" y2="102"/>
<line x1="489.4" y1="118.7" x2="506.1" y2="102"/>
<line x1="497" y1="118.7" x2="513.7" y2="102"/>
<line x1="504.6" y1="118.7" x2="521.3" y2="102"/>
<line x1="512.2" y1="118.7" x2="528.9" y2="102"/>
<line x1="519.8" y1="118.7" x2="536.5" y2="102"/>
<line x1="527.4" y1="118.7" x2="544.1" y2="102"/>
<line x1="535" y1="118.7" x2="551.7" y2="102"/>
<line x1="542.6" y1="118.7" x2="559.3" y2="102"/>
<line x1="550.2" y1="118.7" x2="566.9" y2="102"/>
<line x1="557.8" y1="118.7" x2="574.5" y2="102"/>
<line x1="565.4" y1="118.7" x2="582.1" y2="102"/>
</g>
<clipPath id="h3"><path d="M462.2,150.3 L462.2,123.5 Q462.2,121 464.7,121 L563,121 C565.5,128 566,138 562.6,150.3 Z"/></clipPath>
<g clip-path="url(#h3)" stroke="#000" stroke-width="1.17">
<line x1="433.7" y1="121" x2="463" y2="150.3"/>
<line x1="440.8" y1="121" x2="470.1" y2="150.3"/>
<line x1="447.9" y1="121" x2="477.2" y2="150.3"/>
<line x1="455" y1="121" x2="484.3" y2="150.3"/>
<line x1="462.1" y1="121" x2="491.4" y2="150.3"/>
<line x1="469.2" y1="121" x2="498.5" y2="150.3"/>
<line x1="476.3" y1="121" x2="505.6" y2="150.3"/>
<line x1="483.4" y1="121" x2="512.7" y2="150.3"/>
<line x1="490.5" y1="121" x2="519.8" y2="150.3"/>
<line x1="497.6" y1="121" x2="526.9" y2="150.3"/>
<line x1="504.7" y1="121" x2="534" y2="150.3"/>
<line x1="511.8" y1="121" x2="541.1" y2="150.3"/>
<line x1="518.9" y1="121" x2="548.2" y2="150.3"/>
<line x1="526" y1="121" x2="555.3" y2="150.3"/>
<line x1="533.1" y1="121" x2="562.4" y2="150.3"/>
<line x1="540.2" y1="121" x2="569.5" y2="150.3"/>
<line x1="547.3" y1="121" x2="576.6" y2="150.3"/>
<line x1="554.4" y1="121" x2="583.7" y2="150.3"/>
<line x1="561.5" y1="121" x2="590.8" y2="150.3"/>
<line x1="568.6" y1="121" x2="597.9" y2="150.3"/>
<line x1="575.7" y1="121" x2="605" y2="150.3"/>
<line x1="582.8" y1="121" x2="612.1" y2="150.3"/>
<line x1="589.9" y1="121" x2="619.2" y2="150.3"/>
</g>
<path d="M563,121 C565.5,128 566,138 562.6,150.3" stroke="#000" stroke-width="1.17" fill="none"/>
<path d="M506.8,106 L506.8,100.5 A3.8,3.8 0 0 1 514.4,100.5 L514.4,106" stroke="#000" stroke-width="1.43" fill="#fff"/>
<path d="M505.2,106 L516.2,106 L516.8,108.6 L504.6,108.6 Z" stroke="#000" stroke-width="1.3" fill="#000"/>
<line x1="508.2" y1="108.6" x2="508.2" y2="118.7" stroke="#000" stroke-width="1.3"/>
<line x1="513" y1="108.6" x2="513" y2="118.7" stroke="#000" stroke-width="1.3"/>
<line x1="510.6" y1="96" x2="510.6" y2="121.5" stroke="#000" stroke-width="1.04"/>
<path d="M453.5,198.1 L476.5,198.1 L485.5,193 L555,193" stroke="#000" stroke-width="1.69" fill="none"/>
<rect x="461.2" y="150.3" width="5.3" height="49.6" stroke="#000" stroke-width="0.65" fill="#000"/>
<path d="M461.2,199 Q463.8,201.5 466.5,199 Z" stroke="#000" stroke-width="0.65" fill="#000"/>
<line x1="476.6" y1="150.3" x2="476.6" y2="198.1" stroke="#000" stroke-width="1.43"/>
<line x1="485.6" y1="150.3" x2="485.6" y2="193" stroke="#000" stroke-width="1.43"/>
<line x1="555.2" y1="150.3" x2="555.2" y2="193.6" stroke="#000" stroke-width="1.69"/>
<line x1="557.7" y1="150.3" x2="557.7" y2="193" stroke="#000" stroke-width="1.56"/>
<line x1="562" y1="150.3" x2="562" y2="192.2" stroke="#000" stroke-width="1.56"/>
<line x1="557.7" y1="192.4" x2="562" y2="192.4" stroke="#000" stroke-width="1.43"/>
<line x1="552.5" y1="186.6" x2="565.5" y2="186.6" stroke="#000" stroke-width="1.04"/>
<path d="M562,120.6 L566.5,122 Q569.8,122.6 572,120 L585.6,104.4 L598.5,104.4" stroke="#000" stroke-width="1.56" fill="none"/>
<path d="M562,178.6 L567,178.6 Q569.6,178.8 571.5,181 L586,197 L598.5,197" stroke="#000" stroke-width="1.56" fill="none"/>
<line x1="584.3" y1="105.5" x2="584.3" y2="196" stroke="#000" stroke-width="1.43"/>
<line x1="587.6" y1="104.4" x2="587.6" y2="197" stroke="#000" stroke-width="1.43"/>
<line x1="569.6" y1="137" x2="569.6" y2="163.5" stroke="#000" stroke-width="1.17"/>
<path d="M598.5,104 Q600.2,101.5 602,104 L602,150.3 L605,150.3 L605,196.5 Q601.7,200 598.5,196.5 Z" stroke="#000" stroke-width="0.52" fill="#000"/>
<path d="M731.7,104 Q729.8,101.5 728,104 L728,150.3 L725.3,150.3 L725.3,196.5 Q728.5,200 731.7,196.5 Z" stroke="#000" stroke-width="0.52" fill="#000"/>
<line x1="602" y1="104.6" x2="728" y2="104.6" stroke="#000" stroke-width="1.69"/>
<line x1="602" y1="111" x2="728" y2="111" stroke="#000" stroke-width="1.69"/>
<line x1="605" y1="196.5" x2="725.3" y2="196.5" stroke="#000" stroke-width="1.69"/>
<clipPath id="h4"><path d="M602,104.6 L728,104.6 L728,111 L602,111 Z"/></clipPath>
<g clip-path="url(#h4)" stroke="#000" stroke-width="1.3">
<line x1="598.6" y1="104.6" x2="605" y2="111"/>
<line x1="606.45" y1="104.6" x2="612.85" y2="111"/>
<line x1="614.3" y1="104.6" x2="620.7" y2="111"/>
<line x1="622.15" y1="104.6" x2="628.55" y2="111"/>
<line x1="630" y1="104.6" x2="636.4" y2="111"/>
<line x1="637.85" y1="104.6" x2="644.25" y2="111"/>
<line x1="645.7" y1="104.6" x2="652.1" y2="111"/>
<line x1="653.55" y1="104.6" x2="659.95" y2="111"/>
<line x1="661.4" y1="104.6" x2="667.8" y2="111"/>
<line x1="669.25" y1="104.6" x2="675.65" y2="111"/>
<line x1="677.1" y1="104.6" x2="683.5" y2="111"/>
<line x1="684.95" y1="104.6" x2="691.35" y2="111"/>
<line x1="692.8" y1="104.6" x2="699.2" y2="111"/>
<line x1="700.65" y1="104.6" x2="707.05" y2="111"/>
<line x1="708.5" y1="104.6" x2="714.9" y2="111"/>
<line x1="716.35" y1="104.6" x2="722.75" y2="111"/>
<line x1="724.2" y1="104.6" x2="730.6" y2="111"/>
<line x1="732.05" y1="104.6" x2="738.45" y2="111"/>
</g>
<rect x="611.3" y="112.3" width="3.5" height="38" fill="#ddd"/><rect x="715.4" y="112.3" width="3.6" height="38" fill="#ddd"/>
<line x1="611.3" y1="112.3" x2="611.3" y2="150.8" stroke="#000" stroke-width="1.23"/>
<line x1="614.8" y1="112.3" x2="614.8" y2="150.8" stroke="#000" stroke-width="1.23"/>
<line x1="715.4" y1="112.3" x2="715.4" y2="150.8" stroke="#000" stroke-width="1.23"/>
<line x1="719" y1="112.3" x2="719" y2="150.8" stroke="#000" stroke-width="1.23"/>
<line x1="667.2" y1="111.5" x2="667.2" y2="196" stroke="#000" stroke-width="1.17"/>
<polygon points="667.2,111.4 668.1,116.4 666.3,116.4" fill="#000"/>
<polygon points="667.2,196.2 666.3,191.2 668.1,191.2" fill="#000"/>
<text x="664.2" y="155" font-size="10" font-family='"Liberation Sans","Noto Sans CJK SC",sans-serif' fill="#000" stroke="#000" stroke-width="0.7" transform="rotate(-90 664.2 155)"><tspan textLength="5.6" lengthAdjust="spacingAndGlyphs">D</tspan><tspan font-size="6.5" dx="0.1" dy="0.2">3</tspan></text>
<line x1="731.7" y1="104.9" x2="737" y2="104.9" stroke="#000" stroke-width="1.56"/>
<line x1="752" y1="102" x2="776" y2="102" stroke="#000" stroke-width="1.69"/>
<line x1="731.7" y1="195.7" x2="737" y2="195.7" stroke="#000" stroke-width="1.56"/>
<line x1="752" y1="198.6" x2="776" y2="198.6" stroke="#000" stroke-width="1.69"/>
<line x1="736.6" y1="105" x2="736.6" y2="196" stroke="#000" stroke-width="1.3"/>
<path d="M737,91.8 L752,91.8 L752,208.8 L737,208.8 Z" stroke="#000" stroke-width="1.69" fill="none"/>
<line x1="746" y1="91.8" x2="746" y2="208.8" stroke="#000" stroke-width="1.69"/>
<line x1="733" y1="97" x2="756" y2="97" stroke="#000" stroke-width="1.27"/>
<line x1="733" y1="203.3" x2="756" y2="203.3" stroke="#000" stroke-width="1.27"/>
<line x1="881.9" y1="102" x2="898.7" y2="102" stroke="#000" stroke-width="1.69"/>
<line x1="898.7" y1="102" x2="898.7" y2="91.9" stroke="#000" stroke-width="1.69"/>
<line x1="898.7" y1="91.9" x2="908" y2="91.9" stroke="#000" stroke-width="1.69"/>
<line x1="881.9" y1="198.6" x2="898.7" y2="198.6" stroke="#000" stroke-width="1.69"/>
<line x1="898.7" y1="198.6" x2="898.7" y2="208.7" stroke="#000" stroke-width="1.69"/>
<line x1="898.7" y1="208.7" x2="908" y2="208.7" stroke="#000" stroke-width="1.69"/>
<line x1="907.1" y1="73" x2="907.1" y2="141.9" stroke="#000" stroke-width="3.9"/>
<line x1="907.1" y1="159.4" x2="907.1" y2="187.6" stroke="#000" stroke-width="3.9"/>
<line x1="908.1" y1="57" x2="908.1" y2="74" stroke="#000" stroke-width="1.3"/>
<line x1="908.1" y1="187" x2="908.1" y2="246" stroke="#000" stroke-width="1.3"/>
<clipPath id="h5"><path d="M898.7,102 L890.2,102 Q883.6,150.3 890.2,198.6 L898.7,198.6 L898.7,208.7 L907.6,208.7 L907.6,186 L905.6,186 C905,181 900.8,181 900.8,176 L900.8,124.6 C900.8,119.6 905,119.6 905.6,114.6 L907.6,114.6 L907.6,91.9 L898.7,91.9 Z"/></clipPath>
<g clip-path="url(#h5)" stroke="#000" stroke-width="1.23">
<line x1="769" y1="210" x2="888" y2="91"/>
<line x1="777.2" y1="210" x2="896.2" y2="91"/>
<line x1="785.4" y1="210" x2="904.4" y2="91"/>
<line x1="793.6" y1="210" x2="912.6" y2="91"/>
<line x1="801.8" y1="210" x2="920.8" y2="91"/>
<line x1="810" y1="210" x2="929" y2="91"/>
<line x1="818.2" y1="210" x2="937.2" y2="91"/>
<line x1="826.4" y1="210" x2="945.4" y2="91"/>
<line x1="834.6" y1="210" x2="953.6" y2="91"/>
<line x1="842.8" y1="210" x2="961.8" y2="91"/>
<line x1="851" y1="210" x2="970" y2="91"/>
<line x1="859.2" y1="210" x2="978.2" y2="91"/>
<line x1="867.4" y1="210" x2="986.4" y2="91"/>
<line x1="875.6" y1="210" x2="994.6" y2="91"/>
<line x1="883.8" y1="210" x2="1002.8" y2="91"/>
<line x1="892" y1="210" x2="1011" y2="91"/>
<line x1="900.2" y1="210" x2="1019.2" y2="91"/>
<line x1="908.4" y1="210" x2="1027.4" y2="91"/>
<line x1="916.6" y1="210" x2="1035.6" y2="91"/>
<line x1="924.8" y1="210" x2="1043.8" y2="91"/>
<line x1="933" y1="210" x2="1052" y2="91"/>
<line x1="941.2" y1="210" x2="1060.2" y2="91"/>
<line x1="949.4" y1="210" x2="1068.4" y2="91"/>
<line x1="957.6" y1="210" x2="1076.6" y2="91"/>
<line x1="965.8" y1="210" x2="1084.8" y2="91"/>
<line x1="974" y1="210" x2="1093" y2="91"/>
<line x1="982.2" y1="210" x2="1101.2" y2="91"/>
<line x1="990.4" y1="210" x2="1109.4" y2="91"/>
<line x1="998.6" y1="210" x2="1117.6" y2="91"/>
<line x1="1006.8" y1="210" x2="1125.8" y2="91"/>
<line x1="1015" y1="210" x2="1134" y2="91"/>
<line x1="1023.2" y1="210" x2="1142.2" y2="91"/>
</g>
<path d="M890.2,102 Q883.6,150.3 890.2,198.6" stroke="#000" stroke-width="1.56" fill="none"/>
<path d="M905.6,186 C905,181 900.8,181 900.8,176 L900.8,124.6 C900.8,119.6 905,119.6 905.6,114.6" stroke="#000" stroke-width="1.56" fill="none"/>
<line x1="903.2" y1="121" x2="903.2" y2="180" stroke="#000" stroke-width="1.04"/>
<rect x="903.7" y="141.9" width="8.5" height="17.5" stroke="#000" stroke-width="1.69" fill="#fff"/>
<line x1="894" y1="150.3" x2="925" y2="150.3" stroke="#000" stroke-width="1.17"/>
<line x1="908" y1="91.9" x2="997.5" y2="91.9" stroke="#000" stroke-width="1.27"/>
<line x1="908" y1="208.6" x2="997.5" y2="208.6" stroke="#000" stroke-width="1.27"/>
<line x1="894.4" y1="97.1" x2="980" y2="97.1" stroke="#000" stroke-width="1.27"/>
<line x1="894.4" y1="203.5" x2="980" y2="203.5" stroke="#000" stroke-width="1.27"/>
<line x1="909.4" y1="112.8" x2="961" y2="112.8" stroke="#000" stroke-width="1.27"/>
<line x1="909.4" y1="187.9" x2="961" y2="187.9" stroke="#000" stroke-width="1.27"/>
<line x1="912.5" y1="141.9" x2="942.5" y2="141.9" stroke="#000" stroke-width="1.27"/>
<line x1="912.5" y1="159.4" x2="942.5" y2="159.4" stroke="#000" stroke-width="1.27"/>
<line x1="938.5" y1="130" x2="938.5" y2="171" stroke="#000" stroke-width="1.27"/>
<polygon points="938.5,141.7 937.7,137.2 939.3,137.2" fill="#000"/>
<polygon points="938.5,159.6 939.3,164.1 937.7,164.1" fill="#000"/>
<line x1="957.2" y1="112.8" x2="957.2" y2="187.9" stroke="#000" stroke-width="1.27"/>
<polygon points="957.2,112.9 958,117.9 956.4,117.9" fill="#000"/>
<polygon points="957.2,187.8 956.4,182.8 958,182.8" fill="#000"/>
<line x1="976" y1="97.1" x2="976" y2="203.5" stroke="#000" stroke-width="1.27"/>
<polygon points="976,97.2 976.8,102.2 975.2,102.2" fill="#000"/>
<polygon points="976,203.4 975.2,198.4 976.8,198.4" fill="#000"/>
<line x1="994" y1="91.9" x2="994" y2="208.6" stroke="#000" stroke-width="1.27"/>
<polygon points="994,92 994.8,97 993.2,97" fill="#000"/>
<polygon points="994,208.5 993.2,203.5 994.8,203.5" fill="#000"/>
<text x="935.8" y="153.4" font-size="10" font-family='"Liberation Sans","Noto Sans CJK SC",sans-serif' fill="#000" transform="rotate(-90 935.8 153.4)" textLength="6.2" lengthAdjust="spacingAndGlyphs" stroke="#000" stroke-width="0.7">b</text>
<text x="954.5" y="156.2" font-size="10" font-family='"Liberation Sans","Noto Sans CJK SC",sans-serif' fill="#000" stroke="#000" stroke-width="0.7" transform="rotate(-90 954.5 156.2)"><tspan textLength="5.8" lengthAdjust="spacingAndGlyphs">D</tspan><tspan font-size="6" dx="0.1" dy="0.2">2</tspan></text>
<text x="973" y="156.2" font-size="10" font-family='"Liberation Sans","Noto Sans CJK SC",sans-serif' fill="#000" stroke="#000" stroke-width="0.7" transform="rotate(-90 973 156.2)"><tspan textLength="5.8" lengthAdjust="spacingAndGlyphs">D</tspan><tspan font-size="6" dx="0.1" dy="0.2">1</tspan></text>
<text x="991" y="154.4" font-size="10" font-family='"Liberation Sans","Noto Sans CJK SC",sans-serif' fill="#000" transform="rotate(-90 991 154.4)" textLength="6.4" lengthAdjust="spacingAndGlyphs" stroke="#000" stroke-width="0.7">D</text>
<line x1="894.4" y1="77.5" x2="905.6" y2="77.5" stroke="#000" stroke-width="1.27"/>
<polygon points="905.6,77.5 901.1,78.3 901.1,76.7" fill="#000"/>
<line x1="908.7" y1="77.5" x2="928" y2="77.5" stroke="#000" stroke-width="1.27"/>
<polygon points="908.7,77.5 913.2,76.7 913.2,78.3" fill="#000"/>
<text x="923.8" y="75" font-size="11" font-family='"Liberation Sans","Noto Sans CJK SC",sans-serif' fill="#000" text-anchor="middle" stroke="#000" stroke-width="0.55">t</text>
<line x1="912.2" y1="159.4" x2="912.2" y2="228.8" stroke="#000" stroke-width="1.27"/>
<line x1="899.8" y1="208.6" x2="899.8" y2="246" stroke="#000" stroke-width="1.27"/>
<line x1="896.2" y1="225" x2="908" y2="225" stroke="#000" stroke-width="1.27"/>
<polygon points="908,225 903.5,225.8 903.5,224.2" fill="#000"/>
<line x1="912.2" y1="225" x2="933" y2="225" stroke="#000" stroke-width="1.27"/>
<polygon points="912.2,225 916.7,224.2 916.7,225.8" fill="#000"/>
<text x="928.3" y="222.6" font-size="10.4" font-family='"Liberation Sans","Noto Sans CJK SC",sans-serif' fill="#000" text-anchor="middle" stroke="#000" stroke-width="0.55">h</text>
<line x1="887.5" y1="241.5" x2="899.8" y2="241.5" stroke="#000" stroke-width="1.27"/>
<polygon points="899.8,241.5 895.3,242.3 895.3,240.7" fill="#000"/>
<line x1="908" y1="241.5" x2="928.8" y2="241.5" stroke="#000" stroke-width="1.27"/>
<polygon points="908.1,241.5 912.6,240.7 912.6,242.3" fill="#000"/>
<text x="924" y="239.4" font-size="10.4" font-family='"Liberation Sans","Noto Sans CJK SC",sans-serif' fill="#000" text-anchor="middle" stroke="#000" stroke-width="0.55">k</text>
<line x1="439.8" y1="235.8" x2="439.8" y2="295.8" stroke="#000" stroke-width="1.46"/>
<line x1="439.8" y1="303.5" x2="439.8" y2="311.4" stroke="#000" stroke-width="1.46"/>
<line x1="439.8" y1="325.5" x2="439.8" y2="382.6" stroke="#000" stroke-width="1.46"/>
<line x1="408.8" y1="318.3" x2="445.8" y2="318.3" stroke="#000" stroke-width="1.46"/>
<line x1="450.8" y1="318.3" x2="467.8" y2="318.3" stroke="#000" stroke-width="1.46"/>
<line x1="474.8" y1="318.3" x2="497.5" y2="318.3" stroke="#000" stroke-width="1.46"/>
<line x1="497.5" y1="318.3" x2="510" y2="318.3" stroke="#000" stroke-width="1.46"/>
<path d="M439.8,311.4 L493.5,311.4 L493.5,325.4 L439.8,325.4" stroke="#000" stroke-width="1.6" fill="none"/>
<path d="M428.18,252.42 A66.9,66.9 0 0 1 505.72,306.91" stroke="#000" stroke-width="1.38" fill="none"/>
<polygon points="439.5,251.4 434.5,252.2 434.5,250.6" fill="#000"/>
<line x1="450.97" y1="254.98" x2="451.87" y2="249.86" stroke="#000" stroke-width="2.04"/>
<line x1="471.95" y1="262.61" x2="474.55" y2="258.11" stroke="#000" stroke-width="2.04"/>
<line x1="489.06" y1="276.97" x2="493.04" y2="273.63" stroke="#000" stroke-width="2.04"/>
<line x1="500.22" y1="296.31" x2="505.11" y2="294.53" stroke="#000" stroke-width="2.04"/>
<polygon points="505.72,306.91 504.08,302.12 505.66,301.85" fill="#000"/>
<circle cx="448.12" cy="271.13" r="4.3" stroke="#000" stroke-width="1.46" fill="none"/>
<line x1="446.47" y1="280.48" x2="449.59" y2="262.76" stroke="#000" stroke-width="1.75"/>
<line x1="450.11" y1="259.8" x2="450.9" y2="255.37" stroke="#000" stroke-width="1.6"/>
<line x1="443.56" y1="270.55" x2="452.6" y2="272.14" stroke="#000" stroke-width="1.31"/>
<circle cx="448.12" cy="365.47" r="4.3" stroke="#000" stroke-width="1.46" fill="none"/>
<line x1="446.47" y1="356.12" x2="449.77" y2="374.83" stroke="#000" stroke-width="1.75"/>
<line x1="452.6" y1="364.46" x2="443.56" y2="366.05" stroke="#000" stroke-width="1.31"/>
<circle cx="463.75" cy="276.82" r="4.3" stroke="#000" stroke-width="1.46" fill="none"/>
<line x1="459" y1="285.04" x2="468" y2="269.46" stroke="#000" stroke-width="1.75"/>
<line x1="469.5" y1="266.86" x2="471.75" y2="262.96" stroke="#000" stroke-width="1.6"/>
<line x1="459.66" y1="274.71" x2="467.62" y2="279.3" stroke="#000" stroke-width="1.31"/>
<circle cx="463.75" cy="359.78" r="4.3" stroke="#000" stroke-width="1.46" fill="none"/>
<line x1="459" y1="351.56" x2="468.5" y2="368.01" stroke="#000" stroke-width="1.75"/>
<line x1="467.62" y1="357.3" x2="459.66" y2="361.89" stroke="#000" stroke-width="1.31"/>
<circle cx="476.49" cy="287.51" r="4.3" stroke="#000" stroke-width="1.46" fill="none"/>
<line x1="469.22" y1="293.62" x2="483" y2="282.05" stroke="#000" stroke-width="1.75"/>
<line x1="485.3" y1="280.12" x2="488.75" y2="277.23" stroke="#000" stroke-width="1.6"/>
<line x1="473.37" y1="284.14" x2="479.28" y2="291.17" stroke="#000" stroke-width="1.31"/>
<circle cx="476.49" cy="349.09" r="4.3" stroke="#000" stroke-width="1.46" fill="none"/>
<line x1="469.22" y1="342.98" x2="483.77" y2="355.2" stroke="#000" stroke-width="1.75"/>
<line x1="479.28" y1="345.43" x2="473.37" y2="352.46" stroke="#000" stroke-width="1.31"/>
<circle cx="484.81" cy="301.92" r="4.3" stroke="#000" stroke-width="1.46" fill="none"/>
<line x1="475.88" y1="305.17" x2="492.8" y2="299.01" stroke="#000" stroke-width="1.75"/>
<line x1="495.62" y1="297.98" x2="499.85" y2="296.44" stroke="#000" stroke-width="1.6"/>
<line x1="483.03" y1="297.68" x2="486.17" y2="306.31" stroke="#000" stroke-width="1.31"/>
<circle cx="484.81" cy="334.68" r="4.3" stroke="#000" stroke-width="1.46" fill="none"/>
<line x1="475.88" y1="331.43" x2="493.74" y2="337.93" stroke="#000" stroke-width="1.75"/>
<line x1="486.17" y1="330.29" x2="483.03" y2="338.92" stroke="#000" stroke-width="1.31"/>
<line x1="448.12" y1="271.13" x2="463.75" y2="276.82" stroke="#000" stroke-width="1.38"/>
<line x1="476.49" y1="287.51" x2="484.81" y2="301.92" stroke="#000" stroke-width="1.38"/>
<line x1="484.81" y1="334.68" x2="476.49" y2="349.09" stroke="#000" stroke-width="1.38"/>
<line x1="463.75" y1="359.78" x2="448.12" y2="365.47" stroke="#000" stroke-width="1.38"/>
<path d="M487.34,312.46 A47.9,47.9 0 0 1 487.34,324.14" stroke="#000" stroke-width="1.38" fill="none"/>
<line x1="432" y1="271.1" x2="443.3" y2="271.1" stroke="#000" stroke-width="1.38"/>
<line x1="432" y1="366.3" x2="443.3" y2="366.3" stroke="#000" stroke-width="1.38"/>
<line x1="439.8" y1="318.3" x2="480.05" y2="297.08" stroke="#000" stroke-width="1.46"/>
<text x="451.2" y="310.4" font-size="10" font-family='"Liberation Sans","Noto Sans CJK SC",sans-serif' fill="#000" transform="rotate(-28 451.2 310.4)" textLength="10.5" lengthAdjust="spacingAndGlyphs" stroke="#000" stroke-width="0.7">D1</text>
<text x="423.5" y="251.8" font-size="10" font-family='"Liberation Sans","Noto Sans CJK SC",sans-serif' fill="#000" transform="rotate(-4 423.5 251.8)" textLength="12.2" lengthAdjust="spacingAndGlyphs" stroke="#000" stroke-width="0.7">10°</text>
<text x="458.49" y="251.36" font-size="10" font-family='"Liberation Sans","Noto Sans CJK SC",sans-serif' fill="#000" transform="rotate(18 458.49 251.36)" textLength="12.6" lengthAdjust="spacingAndGlyphs" stroke="#000" stroke-width="0.7">20°</text>
<text x="480.26" y="261.79" font-size="10" font-family='"Liberation Sans","Noto Sans CJK SC",sans-serif' fill="#000" transform="rotate(38 480.26 261.79)" textLength="12.6" lengthAdjust="spacingAndGlyphs" stroke="#000" stroke-width="0.7">20°</text>
<text x="497.15" y="279.03" font-size="10" font-family='"Liberation Sans","Noto Sans CJK SC",sans-serif' fill="#000" transform="rotate(58 497.15 279.03)" textLength="12.6" lengthAdjust="spacingAndGlyphs" stroke="#000" stroke-width="0.7">20°</text>
<line x1="443.5" y1="365.6" x2="443.5" y2="389.4" stroke="#000" stroke-width="1.6"/>
<line x1="451.9" y1="365.6" x2="451.9" y2="389.4" stroke="#000" stroke-width="1.6"/>
<line x1="431" y1="385.4" x2="443.5" y2="385.4" stroke="#000" stroke-width="1.38"/>
<polygon points="443.5,385.4 439,386.2 439,384.6" fill="#000"/>
<line x1="451.9" y1="385.4" x2="472.5" y2="385.4" stroke="#000" stroke-width="1.38"/>
<polygon points="451.9,385.4 456.4,384.6 456.4,386.2" fill="#000"/>
<text x="468.3" y="383" font-size="11" font-family='"Liberation Sans","Noto Sans CJK SC",sans-serif' fill="#000" text-anchor="middle" stroke="#000" stroke-width="0.55">d</text>
<text x="438.6" y="403.6" font-size="12.6" font-family='"Liberation Sans","Noto Sans CJK SC",sans-serif' fill="#000" textLength="26.2" lengthAdjust="spacingAndGlyphs" stroke="#000" stroke-width="0.55">n=16</text>
<line x1="576.9" y1="235.8" x2="576.9" y2="295.8" stroke="#000" stroke-width="1.46"/>
<line x1="576.9" y1="303.5" x2="576.9" y2="311.4" stroke="#000" stroke-width="1.46"/>
<line x1="576.9" y1="325.5" x2="576.9" y2="382.6" stroke="#000" stroke-width="1.46"/>
<line x1="562.5" y1="318.3" x2="582.9" y2="318.3" stroke="#000" stroke-width="1.46"/>
<line x1="587.9" y1="318.3" x2="604.9" y2="318.3" stroke="#000" stroke-width="1.46"/>
<line x1="611.9" y1="318.3" x2="634.6" y2="318.3" stroke="#000" stroke-width="1.46"/>
<line x1="634.6" y1="318.3" x2="647.5" y2="318.3" stroke="#000" stroke-width="1.46"/>
<path d="M576.9,311.4 L630.6,311.4 L630.6,325.4 L576.9,325.4" stroke="#000" stroke-width="1.6" fill="none"/>
<path d="M576.9,244.5 A73.8,73.8 0 0 1 646.68,294.27" stroke="#000" stroke-width="1.38" fill="none"/>
<polygon points="576.9,244.5 581.9,243.7 581.9,245.3" fill="#000"/>
<polygon points="646.68,294.27 644.3,289.81 645.81,289.29" fill="#000"/>
<line x1="618.52" y1="261.02" x2="622.04" y2="256.17" stroke="#000" stroke-width="2.04"/>
<circle cx="576.9" cy="270.4" r="4.3" stroke="#000" stroke-width="1.46" fill="none"/>
<circle cx="605.05" cy="279.55" r="4.3" stroke="#000" stroke-width="1.46" fill="none"/>
<circle cx="622.46" cy="303.5" r="4.3" stroke="#000" stroke-width="1.46" fill="none"/>
<circle cx="622.46" cy="333.1" r="4.3" stroke="#000" stroke-width="1.46" fill="none"/>
<circle cx="605.05" cy="357.05" r="4.3" stroke="#000" stroke-width="1.46" fill="none"/>
<circle cx="576.9" cy="366.2" r="4.3" stroke="#000" stroke-width="1.46" fill="none"/>
<line x1="567.5" y1="271" x2="581.5" y2="271" stroke="#000" stroke-width="1.38"/>
<line x1="569" y1="366.2" x2="581.5" y2="366.2" stroke="#000" stroke-width="1.38"/>
<line x1="599.18" y1="287.64" x2="609.17" y2="273.88" stroke="#000" stroke-width="1.46"/>
<line x1="611.23" y1="271.05" x2="622.63" y2="255.36" stroke="#000" stroke-width="1.46"/>
<line x1="612.47" y1="306.74" x2="651.37" y2="294.1" stroke="#000" stroke-width="1.46"/>
<line x1="612.95" y1="330.01" x2="631.97" y2="336.19" stroke="#000" stroke-width="1.46"/>
<line x1="599.18" y1="348.96" x2="610.93" y2="365.14" stroke="#000" stroke-width="1.46"/>
<path d="M587.68,271.63 A47.9,47.9 0 0 1 605.05,279.55" stroke="#000" stroke-width="1.38" fill="none"/>
<path d="M613.59,287.51 A47.9,47.9 0 0 1 622.46,303.5" stroke="#000" stroke-width="1.38" fill="none"/>
<path d="M622.46,303.5 A47.9,47.9 0 0 1 622.46,333.1" stroke="#000" stroke-width="1.38" fill="none"/>
<path d="M622.46,333.1 A47.9,47.9 0 0 1 614.13,348.44" stroke="#000" stroke-width="1.38" fill="none"/>
<path d="M605.05,357.05 A47.9,47.9 0 0 1 588.49,364.78" stroke="#000" stroke-width="1.38" fill="none"/>
<line x1="576.9" y1="318.3" x2="611.76" y2="289.05" stroke="#000" stroke-width="1.46"/>
<text x="588.6" y="305" font-size="10" font-family='"Liberation Sans","Noto Sans CJK SC",sans-serif' fill="#000" transform="rotate(-40 588.6 305)" textLength="10.5" lengthAdjust="spacingAndGlyphs" stroke="#000" stroke-width="0.7">D1</text>
<text x="601.27" y="245.47" font-size="10" font-family='"Liberation Sans","Noto Sans CJK SC",sans-serif' fill="#000" transform="rotate(21 601.27 245.47)" textLength="12.6" lengthAdjust="spacingAndGlyphs" stroke="#000" stroke-width="0.7">30°</text>
<text x="633.32" y="266.78" font-size="10" font-family='"Liberation Sans","Noto Sans CJK SC",sans-serif' fill="#000" transform="rotate(55 633.32 266.78)" textLength="12.6" lengthAdjust="spacingAndGlyphs" stroke="#000" stroke-width="0.7">30°</text>
<line x1="572.5" y1="366" x2="572.5" y2="389.4" stroke="#000" stroke-width="1.6"/>
<line x1="581.3" y1="366" x2="581.3" y2="389.4" stroke="#000" stroke-width="1.6"/>
<line x1="560.6" y1="385.4" x2="572.5" y2="385.4" stroke="#000" stroke-width="1.38"/>
<polygon points="572.5,385.4 568,386.2 568,384.6" fill="#000"/>
<line x1="581.3" y1="385.4" x2="601.9" y2="385.4" stroke="#000" stroke-width="1.38"/>
<polygon points="581.3,385.4 585.8,384.6 585.8,386.2" fill="#000"/>
<text x="597.6" y="383" font-size="11" font-family='"Liberation Sans","Noto Sans CJK SC",sans-serif' fill="#000" text-anchor="middle" stroke="#000" stroke-width="0.55">d</text>
<text x="580.5" y="403.6" font-size="12.6" font-family='"Liberation Sans","Noto Sans CJK SC",sans-serif' fill="#000" textLength="26.2" lengthAdjust="spacingAndGlyphs" stroke="#000" stroke-width="0.55">n=10</text>
<line x1="730" y1="235.8" x2="730" y2="295.8" stroke="#000" stroke-width="1.46"/>
<line x1="730" y1="303.5" x2="730" y2="311.4" stroke="#000" stroke-width="1.46"/>
<line x1="730" y1="325.5" x2="730" y2="382.6" stroke="#000" stroke-width="1.46"/>
<line x1="696" y1="318.3" x2="736" y2="318.3" stroke="#000" stroke-width="1.46"/>
<line x1="741" y1="318.3" x2="758" y2="318.3" stroke="#000" stroke-width="1.46"/>
<line x1="765" y1="318.3" x2="788" y2="318.3" stroke="#000" stroke-width="1.46"/>
<line x1="788" y1="318.3" x2="797" y2="318.3" stroke="#000" stroke-width="1.46"/>
<path d="M730,311.4 L784,311.4 L784,325.4 L730,325.4" stroke="#000" stroke-width="1.6" fill="none"/>
<path d="M730,246.7 A71.6,71.6 0 0 1 796.05,290.67" stroke="#000" stroke-width="1.38" fill="none"/>
<polygon points="730,246.7 735,245.9 735,247.5" fill="#000"/>
<polygon points="796.05,290.67 793.39,286.37 794.86,285.75" fill="#000"/>
<line x1="757.68" y1="255.53" x2="760.1" y2="250.04" stroke="#000" stroke-width="2.04"/>
<circle cx="749.33" cy="274.47" r="4.3" stroke="#000" stroke-width="1.46" fill="none"/>
<circle cx="774.47" cy="300.51" r="4.3" stroke="#000" stroke-width="1.46" fill="none"/>
<circle cx="774.47" cy="336.09" r="4.3" stroke="#000" stroke-width="1.46" fill="none"/>
<circle cx="749.33" cy="362.13" r="4.3" stroke="#000" stroke-width="1.46" fill="none"/>
<line x1="746.1" y1="281.79" x2="751.55" y2="269.44" stroke="#000" stroke-width="1.46"/>
<line x1="752.96" y1="266.24" x2="760.31" y2="249.59" stroke="#000" stroke-width="1.46"/>
<line x1="767.51" y1="303.3" x2="779.58" y2="298.47" stroke="#000" stroke-width="1.46"/>
<line x1="782.83" y1="297.17" x2="801.12" y2="289.85" stroke="#000" stroke-width="1.46"/>
<line x1="767.51" y1="333.3" x2="783.76" y2="339.8" stroke="#000" stroke-width="1.46"/>
<line x1="746.1" y1="354.81" x2="752.56" y2="369.45" stroke="#000" stroke-width="1.46"/>
<path d="M722.92,270.93 A47.9,47.9 0 0 1 766.42,287.19" stroke="#000" stroke-width="1.38" fill="none"/>
<path d="M774.47,300.51 A47.9,47.9 0 0 1 777.54,312.46" stroke="#000" stroke-width="1.38" fill="none"/>
<path d="M777.54,324.14 A47.9,47.9 0 0 1 774.47,336.09" stroke="#000" stroke-width="1.38" fill="none"/>
<path d="M768.75,346.45 A47.9,47.9 0 0 1 749.33,362.13" stroke="#000" stroke-width="1.38" fill="none"/>
<path d="M749.33,362.13 A47.9,47.9 0 0 1 723.33,365.73" stroke="#000" stroke-width="1.38" fill="none"/>
<line x1="730" y1="318.3" x2="765.83" y2="288.66" stroke="#000" stroke-width="1.46"/>
<text x="743.8" y="304.8" font-size="10" font-family='"Liberation Sans","Noto Sans CJK SC",sans-serif' fill="#000" transform="rotate(-40 743.8 304.8)" textLength="10.5" lengthAdjust="spacingAndGlyphs" stroke="#000" stroke-width="0.7">D1</text>
<text x="739.33" y="245.49" font-size="10" font-family='"Liberation Sans","Noto Sans CJK SC",sans-serif' fill="#000" transform="rotate(12 739.33 245.49)" textLength="19.5" lengthAdjust="spacingAndGlyphs" stroke="#000" stroke-width="0.7">22.5°</text>
<text x="777.89" y="261.63" font-size="10" font-family='"Liberation Sans","Noto Sans CJK SC",sans-serif' fill="#000" transform="rotate(47 777.89 261.63)" textLength="12.6" lengthAdjust="spacingAndGlyphs" stroke="#000" stroke-width="0.7">45°</text>
<line x1="745.3" y1="362" x2="745.3" y2="389.4" stroke="#000" stroke-width="1.6"/>
<line x1="754" y1="362" x2="754" y2="389.4" stroke="#000" stroke-width="1.6"/>
<line x1="733" y1="385.4" x2="745.3" y2="385.4" stroke="#000" stroke-width="1.38"/>
<polygon points="745.3,385.4 740.8,386.2 740.8,384.6" fill="#000"/>
<line x1="754" y1="385.4" x2="775" y2="385.4" stroke="#000" stroke-width="1.38"/>
<polygon points="754,385.4 758.5,384.6 758.5,386.2" fill="#000"/>
<text x="770" y="383" font-size="11" font-family='"Liberation Sans","Noto Sans CJK SC",sans-serif' fill="#000" text-anchor="middle" stroke="#000" stroke-width="0.55">d</text>
<text x="738.6" y="403.6" font-size="12.6" font-family='"Liberation Sans","Noto Sans CJK SC",sans-serif' fill="#000" textLength="19.65" lengthAdjust="spacingAndGlyphs" stroke="#000" stroke-width="0.55">n=8</text>
</svg>
</body></html>
